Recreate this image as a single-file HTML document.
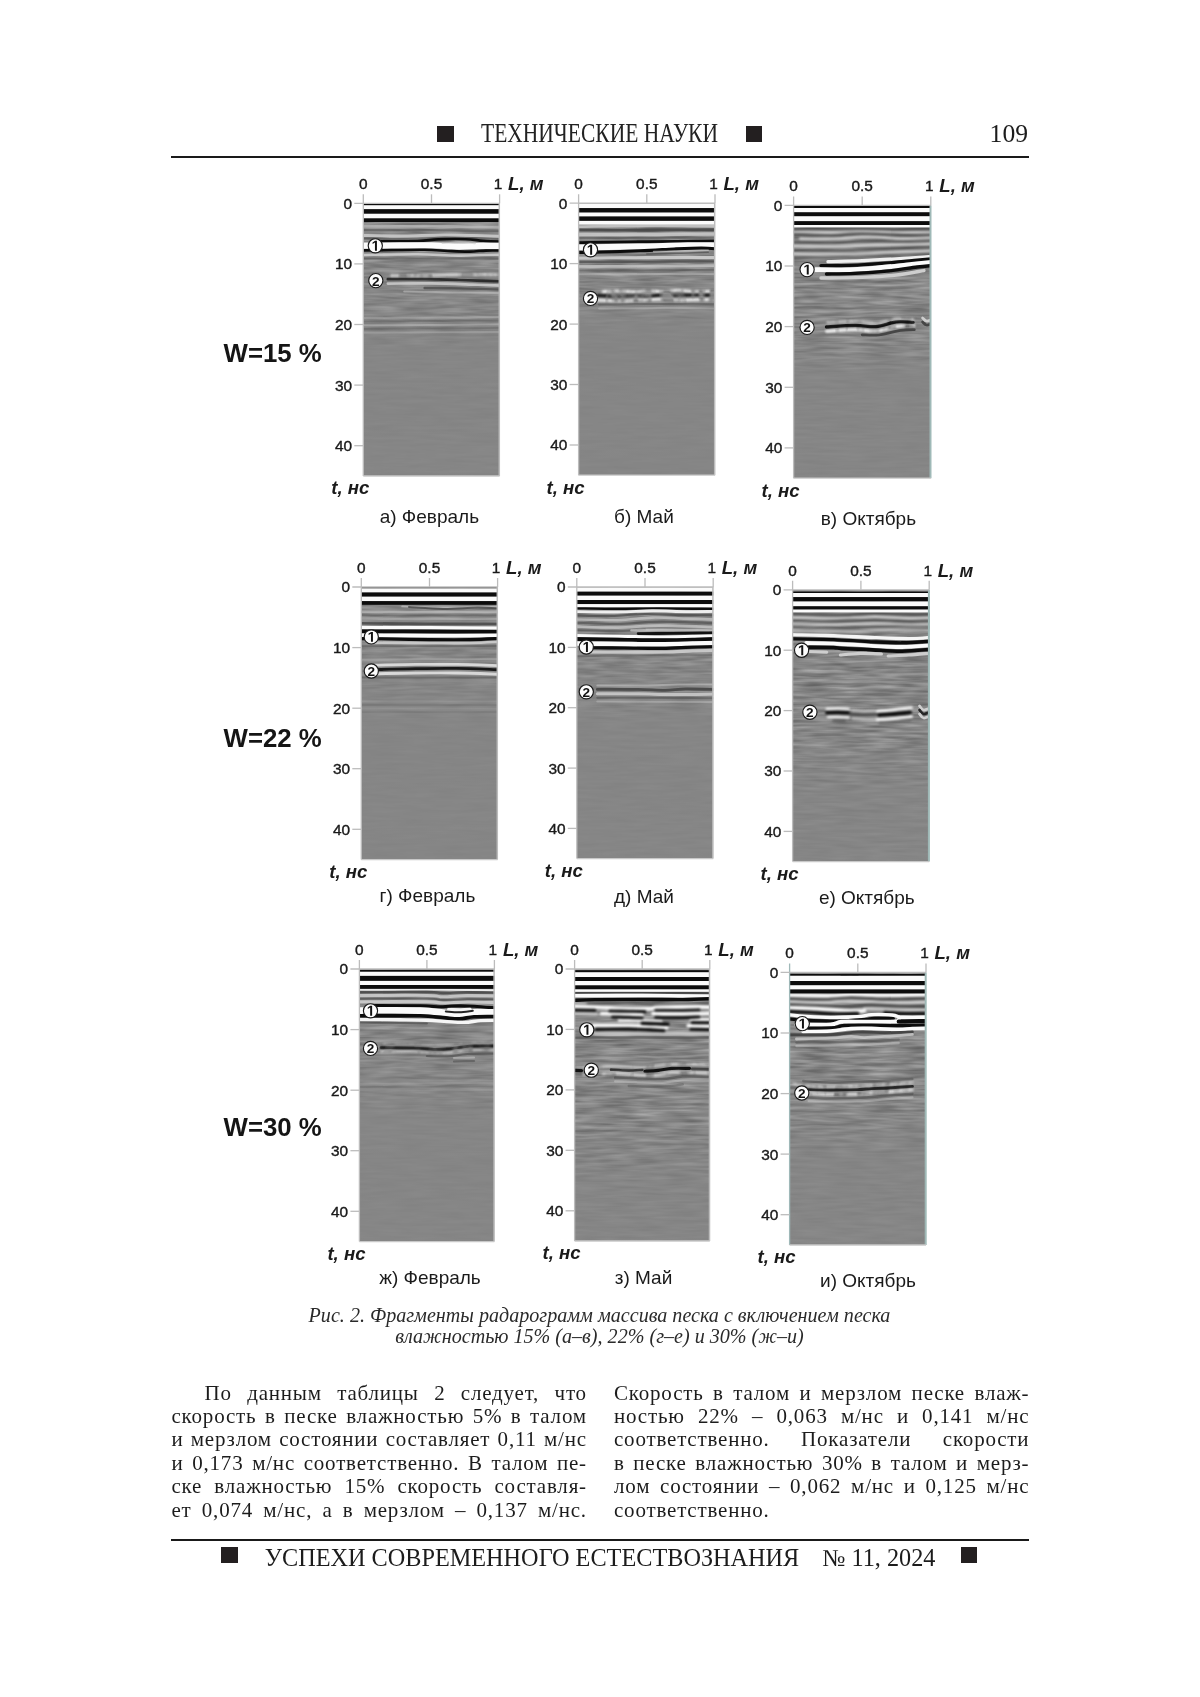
<!DOCTYPE html>
<html lang="ru"><head><meta charset="utf-8"><title>page 109</title>
<style>
html,body{margin:0;padding:0;background:#fff}
body{width:1200px;height:1697px;position:relative;overflow:hidden;font-family:"Liberation Serif",serif;color:#1c1c1c}
.abs{position:absolute;white-space:nowrap}
.sq{position:absolute;background:#231f20}
.rule{position:absolute;left:171px;width:857.5px;height:2.2px;background:#1a1a1a}
.hd{position:absolute;left:481.3px;top:117.6px;font-size:28.3px;line-height:30px;transform-origin:0 0;transform:scaleX(0.76);white-space:nowrap;color:#222}
.pn{position:absolute;right:172px;top:119.8px;font-size:25.6px;line-height:28px;color:#1c1c1c}
.cap{position:absolute;left:0;width:1200px;text-align:center;font-style:italic;font-size:20.1px;line-height:19.2px;color:#2a2a2a;white-space:nowrap}
.col{position:absolute;top:1381.5px;width:415.4px;font-size:21px;line-height:23.45px;letter-spacing:0.8px;color:#1c1c1c}
.ln{text-align:justify;text-align-last:justify;white-space:nowrap;height:23.45px;overflow:visible}
.ln.nj{text-align:left;text-align-last:left}
.ft{position:absolute;top:1544.2px;font-size:24.25px;line-height:28px;white-space:nowrap;color:#1c1c1c}
</style></head><body><div id="pg" style="position:absolute;left:0;top:0;width:1200px;height:1697px;will-change:transform;transform:translateZ(0)">
<div class="sq" style="left:437.3px;top:125.7px;width:16.4px;height:16.2px"></div>
<div class="sq" style="left:745.9px;top:125.7px;width:16.4px;height:16.2px"></div>
<div class="hd">ТЕХНИЧЕСКИЕ НАУКИ</div>
<div class="pn">109</div>
<div class="rule" style="top:155.9px"></div>
<svg width="1200" height="1697" viewBox="0 0 1200 1697" style="position:absolute;left:0;top:0">
<defs><filter id="bl" color-interpolation-filters="sRGB" x="-5%" y="-5%" width="110%" height="110%"><feGaussianBlur stdDeviation="0.7"/></filter>
<filter id="bls" color-interpolation-filters="sRGB" x="-5%" y="-5%" width="110%" height="110%"><feGaussianBlur stdDeviation="0.85"/></filter><filter id="bl2" color-interpolation-filters="sRGB" x="-5%" y="-5%" width="110%" height="110%"><feGaussianBlur stdDeviation="0.6"/></filter></defs>
<clipPath id="c_a"><rect x="363.3" y="203.3" width="136.3" height="272.7"/></clipPath>
<linearGradient id="g_a" gradientUnits="userSpaceOnUse" x1="0" y1="203.3" x2="0" y2="476.0"><stop offset="0" stop-color="#fff" stop-opacity="0.5"/><stop offset="0.2" stop-color="#fff" stop-opacity="0.5"/><stop offset="0.42" stop-color="#fff" stop-opacity="0.3"/><stop offset="0.55" stop-color="#fff" stop-opacity="0.06"/><stop offset="1" stop-color="#fff" stop-opacity="0.05"/></linearGradient>
<mask id="m_a" maskUnits="userSpaceOnUse" x="363.3" y="203.3" width="136.3" height="272.7"><rect x="363.3" y="203.3" width="136.3" height="272.7" fill="url(#g_a)"/></mask>
<filter id="f_a" color-interpolation-filters="sRGB" filterUnits="userSpaceOnUse" x="363.3" y="203.3" width="136.3" height="272.7"><feTurbulence type="fractalNoise" baseFrequency="0.03 0.30" numOctaves="2" seed="3"/><feColorMatrix type="matrix" values="0.62 0 0 0 0.215  0.62 0 0 0 0.215  0.62 0 0 0 0.215  0 0 0 0 1"/></filter>
<filter id="brk_a" color-interpolation-filters="sRGB" filterUnits="userSpaceOnUse" x="363.3" y="203.3" width="136.3" height="272.7"><feTurbulence type="fractalNoise" baseFrequency="0.11 0.035" numOctaves="2" seed="43" result="n"/><feColorMatrix in="n" type="matrix" values="0 0 0 0 0  0 0 0 0 0  0 0 0 0 0  3.2 0 0 0 -0.9" result="m"/><feGaussianBlur in="SourceGraphic" stdDeviation="0.8" result="b"/><feComposite in="b" in2="m" operator="in"/></filter>
<g clip-path="url(#c_a)">
<rect x="363.3" y="203.3" width="136.3" height="272.7" fill="#868686"/>
<g mask="url(#m_a)"><rect x="363.3" y="203.3" width="136.3" height="272.7" filter="url(#f_a)"/></g>
<g filter="url(#bls)" fill="none" stroke-linecap="round">
</g>
<g filter="url(#bl)" fill="none" stroke-linecap="round">
<path d="M360.3,226.5C372.2,226.5 407.7,226.1 431.5,226.3C455.2,226.5 490.7,227.3 502.6,227.5" stroke="#cecece" stroke-width="2.6" opacity="0.55"/>
<path d="M360.3,230.2C372.2,230.2 407.7,229.9 431.5,230.0C455.2,230.1 490.7,230.8 502.6,231.0" stroke="#464646" stroke-width="2.2" opacity="0.45"/>
<path d="M360.3,235.5C367.6,235.6 390.1,236.1 404.2,236.0C418.3,235.9 428.7,234.9 445.1,235.0C461.5,235.1 493.0,236.2 502.6,236.5" stroke="#cecece" stroke-width="3.0" opacity="0.85"/>
<path d="M360.3,238.4C369.9,238.5 403.7,239.1 417.8,239.0C432.0,238.9 431.0,237.6 445.1,237.6C459.2,237.6 493.0,238.8 502.6,239.0" stroke="#464646" stroke-width="2.0" opacity="0.5"/>
<path d="M379.7,241.2C386.0,241.2 408.1,241.3 417.8,241.0C427.6,240.7 430.3,239.7 438.3,239.4C446.2,239.1 458.0,239.0 465.5,239.2C473.0,239.4 477.1,240.4 483.2,240.8C489.4,241.2 499.4,241.5 502.6,241.6" stroke="#0c0c0c" stroke-width="2.576" opacity="1"/>
<path d="M360.3,245.6C363.5,245.6 367.8,245.6 379.7,245.6C391.5,245.6 418.3,245.2 431.5,245.3C444.6,245.5 450.8,246.4 458.7,246.5C466.7,246.6 471.8,245.9 479.2,245.8C486.5,245.7 498.7,246.0 502.6,246.0" stroke="#fbfbfb" stroke-width="6.272" opacity="1"/>
<path d="M442.4,243.3C445.1,243.2 453.3,242.4 458.7,242.4C464.2,242.4 472.3,243.2 475.1,243.4" stroke="#cecece" stroke-width="1.6" opacity="0.7"/>
<path d="M360.3,250.4C363.5,250.4 368.9,250.3 379.7,250.2C390.4,250.1 413.3,249.7 424.6,249.8C436.0,249.9 440.3,250.7 447.8,251.0C455.3,251.3 463.3,251.7 469.6,251.6C476.0,251.5 480.5,250.8 486.0,250.6C491.5,250.4 499.8,250.6 502.6,250.6" stroke="#0c0c0c" stroke-width="2.576" opacity="1"/>
<path d="M360.3,255.0C369.9,254.9 401.4,254.1 417.8,254.2C434.2,254.3 444.6,255.5 458.7,255.6C472.8,255.7 495.3,254.8 502.6,254.6" stroke="#cecece" stroke-width="2.6" opacity="0.9"/>
<path d="M360.3,258.5L502.6,258.5" stroke="#464646" stroke-width="2.0" opacity="0.4"/>
<path d="M387.8,279.2C394.0,279.2 412.8,279.1 424.6,279.2C436.4,279.3 445.7,279.6 458.7,280.0C471.7,280.4 495.3,281.2 502.6,281.4" stroke="#0c0c0c" stroke-width="2.688" opacity="0.7"/>
<path d="M387.8,283.6C395.1,283.6 417.4,283.2 431.5,283.4C445.5,283.6 460.5,284.2 472.3,284.6C484.2,285.0 497.6,285.4 502.6,285.6" stroke="#cecece" stroke-width="2.6" opacity="0.85"/>
<path d="M424.6,288.0C431.4,288.1 452.5,288.3 465.5,288.6C478.5,288.9 496.4,289.4 502.6,289.6" stroke="#464646" stroke-width="2.4" opacity="0.75"/>
<path d="M404.2,291.6C413.3,291.7 442.3,292.2 458.7,292.4C475.1,292.6 495.3,292.9 502.6,293.0" stroke="#cecece" stroke-width="2.0" opacity="0.5"/>
<path d="M360.3,318.0C372.2,317.9 407.7,317.8 431.5,317.6C455.2,317.4 490.7,317.1 502.6,317.0" stroke="#cecece" stroke-width="2.0" opacity="0.3"/>
<path d="M360.3,321.4C372.2,321.3 407.7,321.1 431.5,321.0C455.2,320.9 490.7,320.7 502.6,320.6" stroke="#464646" stroke-width="2.0" opacity="0.3"/>
<path d="M360.3,325.2C372.2,325.2 407.7,325.2 431.5,325.0C455.2,324.8 490.7,324.3 502.6,324.2" stroke="#cecece" stroke-width="2.0" opacity="0.4"/>
<path d="M360.3,329.0L502.6,328.0" stroke="#464646" stroke-width="2.0" opacity="0.3"/>
<path d="M360.3,332.5L502.6,332.0" stroke="#cecece" stroke-width="2.0" opacity="0.3"/>
</g>
<g filter="url(#brk_a)" fill="none" stroke-linecap="round">
<path d="M390.6,275.6C397.4,275.6 417.8,275.6 431.5,275.4C445.1,275.2 460.5,274.6 472.3,274.6C484.2,274.6 497.6,275.1 502.6,275.2" stroke="#fbfbfb" stroke-width="2.0" opacity="0.8"/>
</g>
<g filter="url(#bl2)">
<rect x="360.3" y="204.0" width="142.3" height="1.3" fill="#0c0c0c"/>
<rect x="360.3" y="205.3" width="142.3" height="3.9" fill="#fbfbfb"/>
<rect x="360.3" y="209.2" width="142.3" height="4.6" fill="#0c0c0c"/>
<rect x="360.3" y="213.8" width="142.3" height="4.6" fill="#fbfbfb"/>
<rect x="360.3" y="218.4" width="142.3" height="3.6" fill="#0c0c0c"/>
</g>
</g>
<g stroke="#bcbcbc" stroke-width="1.3" fill="none">
<path d="M363.3,194.3V476.0" stroke="#bcbcbc"/>
<path d="M499.6,194.3V203.3"/>
<path d="M499.3,203.3V476.0" stroke="#bcbcbc" stroke-width="1.5"/>
<path d="M354.3,203.3H499.6"/>
<path d="M431.5,194.3V203.3"/>
<path d="M363.3,476.0H499.6" stroke="#c8c8c8"/>
<path d="M354.3,263.9H363.3"/>
<path d="M354.3,324.5H363.3"/>
<path d="M354.3,385.1H363.3"/>
<path d="M354.3,445.7H363.3"/>
</g>
<g font-family="Liberation Sans, sans-serif" font-size="15.4" fill="#1a1a1a" stroke="#1a1a1a" stroke-width="0.4">
<text x="363.3" y="189.1" text-anchor="middle">0</text>
<text x="431.5" y="189.1" text-anchor="middle">0.5</text>
<text x="498.1" y="189.1" text-anchor="middle">1</text>
<text x="352.0" y="208.7" text-anchor="end">0</text>
<text x="352.0" y="269.3" text-anchor="end">10</text>
<text x="352.0" y="329.9" text-anchor="end">20</text>
<text x="352.0" y="390.5" text-anchor="end">30</text>
<text x="352.0" y="451.1" text-anchor="end">40</text>
</g>
<text x="508.1" y="190.0" font-family="Liberation Sans, sans-serif" font-size="18.6" font-weight="bold" font-style="italic" fill="#1a1a1a">L, м</text>
<text x="331.3" y="494.3" font-family="Liberation Sans, sans-serif" font-size="18.6" font-weight="bold" font-style="italic" fill="#1a1a1a">t, нс</text>
<text x="429.4" y="522.6" text-anchor="middle" font-family="Liberation Sans, sans-serif" font-size="19" fill="#1a1a1a">а) Февраль</text>
<circle cx="375.3" cy="245.8" r="7.1" fill="#fdfdfd" stroke="#1a1a1a" stroke-width="1.15"/>
<path d="M374.96,250.75L374.96,242.53L372.58,244.01L372.58,242.46L375.06,240.85L376.93,240.85L376.93,250.75Z" fill="#111"/>
<circle cx="375.8" cy="280.6" r="7.1" fill="#fdfdfd" stroke="#1a1a1a" stroke-width="1.15"/>
<text x="375.8" y="285.5" text-anchor="middle" font-family="Liberation Sans, sans-serif" font-size="13.6" font-weight="bold" fill="#111">2</text>
<clipPath id="c_b"><rect x="578.6" y="203.2" width="136.4" height="272.0"/></clipPath>
<linearGradient id="g_b" gradientUnits="userSpaceOnUse" x1="0" y1="203.2" x2="0" y2="475.2"><stop offset="0" stop-color="#fff" stop-opacity="0.5"/><stop offset="0.25" stop-color="#fff" stop-opacity="0.5"/><stop offset="0.38" stop-color="#fff" stop-opacity="0.3"/><stop offset="0.46" stop-color="#fff" stop-opacity="0.05"/><stop offset="1" stop-color="#fff" stop-opacity="0.04"/></linearGradient>
<mask id="m_b" maskUnits="userSpaceOnUse" x="578.6" y="203.2" width="136.4" height="272.0"><rect x="578.6" y="203.2" width="136.4" height="272.0" fill="url(#g_b)"/></mask>
<filter id="f_b" color-interpolation-filters="sRGB" filterUnits="userSpaceOnUse" x="578.6" y="203.2" width="136.4" height="272.0"><feTurbulence type="fractalNoise" baseFrequency="0.03 0.30" numOctaves="2" seed="7"/><feColorMatrix type="matrix" values="0.62 0 0 0 0.215  0.62 0 0 0 0.215  0.62 0 0 0 0.215  0 0 0 0 1"/></filter>
<filter id="brk_b" color-interpolation-filters="sRGB" filterUnits="userSpaceOnUse" x="578.6" y="203.2" width="136.4" height="272.0"><feTurbulence type="fractalNoise" baseFrequency="0.11 0.035" numOctaves="2" seed="47" result="n"/><feColorMatrix in="n" type="matrix" values="0 0 0 0 0  0 0 0 0 0  0 0 0 0 0  3.2 0 0 0 -0.9" result="m"/><feGaussianBlur in="SourceGraphic" stdDeviation="0.8" result="b"/><feComposite in="b" in2="m" operator="in"/></filter>
<g clip-path="url(#c_b)">
<rect x="578.6" y="203.2" width="136.4" height="272.0" fill="#868686"/>
<g mask="url(#m_b)"><rect x="578.6" y="203.2" width="136.4" height="272.0" filter="url(#f_b)"/></g>
<g filter="url(#bls)" fill="none" stroke-linecap="round">
</g>
<g filter="url(#bl)" fill="none" stroke-linecap="round">
<path d="M575.6,226.6C587.5,226.5 623.1,225.8 646.8,225.8C670.5,225.8 706.1,226.3 718.0,226.4" stroke="#cecece" stroke-width="2.6" opacity="0.8"/>
<path d="M575.6,230.2C587.5,230.2 623.1,230.1 646.8,230.0C670.5,229.9 706.1,229.7 718.0,229.6" stroke="#464646" stroke-width="2.8" opacity="0.9"/>
<path d="M575.6,234.6C587.5,234.6 623.1,234.5 646.8,234.4C670.5,234.3 706.1,234.1 718.0,234.0" stroke="#cecece" stroke-width="3.6" opacity="0.8"/>
<path d="M575.6,238.2L718.0,237.6" stroke="#464646" stroke-width="1.8" opacity="0.4"/>
<path d="M575.6,242.6C578.4,242.6 580.4,242.6 592.2,242.4C604.1,242.2 625.8,241.8 646.8,241.6C667.8,241.4 706.1,241.1 718.0,241.0" stroke="#0c0c0c" stroke-width="2.9120000000000004" opacity="1"/>
<path d="M575.6,247.4C578.4,247.4 580.4,247.4 592.2,247.2C604.1,247.0 630.9,246.7 646.8,246.4C662.7,246.1 675.9,245.4 687.7,245.2C699.6,245.0 713.0,245.4 718.0,245.4" stroke="#fbfbfb" stroke-width="6.048000000000001" opacity="1"/>
<path d="M575.6,252.4C578.8,252.4 584.2,252.5 595.0,252.2C605.7,251.9 626.8,251.3 640.0,250.8C653.2,250.3 663.9,249.5 674.1,249.0C684.3,248.5 694.0,248.0 701.4,248.0C708.7,248.0 715.2,248.8 718.0,249.0" stroke="#0c0c0c" stroke-width="3.136" opacity="1"/>
<path d="M653.6,251.6C658.2,251.5 671.8,251.2 680.9,251.0C690.0,250.8 703.6,250.3 708.2,250.2" stroke="#cecece" stroke-width="1.6" opacity="0.6"/>
<path d="M646.8,254.0C652.5,253.9 670.7,253.5 680.9,253.2C691.1,252.9 703.6,252.4 708.2,252.2" stroke="#464646" stroke-width="1.6" opacity="0.6"/>
<path d="M575.6,258.2C587.5,258.1 623.1,257.7 646.8,257.6C670.5,257.5 706.1,257.6 718.0,257.6" stroke="#cecece" stroke-width="3.0" opacity="0.9"/>
<path d="M575.6,262.0C587.5,261.9 623.1,261.7 646.8,261.6C670.5,261.5 706.1,261.4 718.0,261.4" stroke="#464646" stroke-width="2.4" opacity="0.7"/>
<path d="M575.6,266.4C587.5,266.4 623.1,266.3 646.8,266.2C670.5,266.1 706.1,265.7 718.0,265.6" stroke="#cecece" stroke-width="2.8" opacity="0.7"/>
<path d="M575.6,270.4L718.0,270.0" stroke="#464646" stroke-width="2.0" opacity="0.4"/>
<path d="M575.6,274.4L718.0,274.0" stroke="#cecece" stroke-width="2.2" opacity="0.4"/>
<path d="M599.1,304.6C609.3,304.5 640.6,304.0 660.4,304.0C680.3,304.0 708.4,304.3 718.0,304.4" stroke="#464646" stroke-width="2.2" opacity="0.4"/>
<path d="M599.1,308.6C609.3,308.5 640.6,308.0 660.4,308.0C680.3,308.0 708.4,308.3 718.0,308.4" stroke="#cecece" stroke-width="2.0" opacity="0.35"/>
</g>
<g filter="url(#brk_b)" fill="none" stroke-linecap="round">
<path d="M603.2,291.6C605.9,291.5 614.1,290.9 619.5,291.0C625.0,291.1 631.3,292.3 635.9,292.2C640.4,292.1 642.3,290.7 646.8,290.6C651.3,290.5 658.2,291.6 663.2,291.6C668.2,291.6 671.6,290.4 676.8,290.4C682.0,290.4 687.7,291.5 694.5,291.6C701.4,291.7 714.1,290.9 718.0,290.8" stroke="#fbfbfb" stroke-width="2.8" opacity="0.9"/>
<path d="M597.7,295.6C601.3,295.7 613.2,296.2 619.5,296.2C625.9,296.2 631.3,295.4 635.9,295.4C640.4,295.4 642.3,296.3 646.8,296.2C651.3,296.1 658.2,294.9 663.2,294.8C668.2,294.7 671.6,295.8 676.8,295.8C682.0,295.8 687.7,294.9 694.5,294.8C701.4,294.7 714.1,295.3 718.0,295.4" stroke="#0c0c0c" stroke-width="3.0" opacity="0.95"/>
<path d="M597.7,300.2C601.3,300.3 612.5,300.8 619.5,300.8C626.6,300.8 633.2,300.3 640.0,300.0C646.8,299.7 653.6,299.2 660.4,299.2C667.3,299.2 674.1,300.2 680.9,300.2C687.7,300.2 695.2,299.4 701.4,299.4C707.5,299.4 715.2,299.9 718.0,300.0" stroke="#fbfbfb" stroke-width="3.0" opacity="0.85"/>
</g>
<g filter="url(#bl2)">
<rect x="575.6" y="203.6" width="142.4" height="4.5" fill="#fbfbfb"/>
<rect x="575.6" y="208.1" width="142.4" height="4.5" fill="#0c0c0c"/>
<rect x="575.6" y="212.6" width="142.4" height="3.9" fill="#fbfbfb"/>
<rect x="575.6" y="216.5" width="142.4" height="4.4" fill="#0c0c0c"/>
<rect x="575.6" y="220.9" width="142.4" height="3.7" fill="#fbfbfb"/>
</g>
</g>
<g stroke="#bcbcbc" stroke-width="1.3" fill="none">
<path d="M578.6,194.2V475.2" stroke="#bcbcbc"/>
<path d="M715.0,194.2V203.2"/>
<path d="M714.7,203.2V475.2" stroke="#bcbcbc" stroke-width="1.5"/>
<path d="M569.6,203.2H715.0"/>
<path d="M646.8,194.2V203.2"/>
<path d="M578.6,475.2H715.0" stroke="#c8c8c8"/>
<path d="M569.6,263.6H578.6"/>
<path d="M569.6,324.1H578.6"/>
<path d="M569.6,384.5H578.6"/>
<path d="M569.6,445.0H578.6"/>
</g>
<g font-family="Liberation Sans, sans-serif" font-size="15.4" fill="#1a1a1a" stroke="#1a1a1a" stroke-width="0.4">
<text x="578.6" y="189.0" text-anchor="middle">0</text>
<text x="646.8" y="189.0" text-anchor="middle">0.5</text>
<text x="713.5" y="189.0" text-anchor="middle">1</text>
<text x="567.3" y="208.6" text-anchor="end">0</text>
<text x="567.3" y="269.0" text-anchor="end">10</text>
<text x="567.3" y="329.5" text-anchor="end">20</text>
<text x="567.3" y="389.9" text-anchor="end">30</text>
<text x="567.3" y="450.4" text-anchor="end">40</text>
</g>
<text x="723.5" y="189.9" font-family="Liberation Sans, sans-serif" font-size="18.6" font-weight="bold" font-style="italic" fill="#1a1a1a">L, м</text>
<text x="546.6" y="493.5" font-family="Liberation Sans, sans-serif" font-size="18.6" font-weight="bold" font-style="italic" fill="#1a1a1a">t, нс</text>
<text x="643.9" y="523.4" text-anchor="middle" font-family="Liberation Sans, sans-serif" font-size="19" fill="#1a1a1a">б) Май</text>
<circle cx="590.5" cy="249.8" r="7.1" fill="#fdfdfd" stroke="#1a1a1a" stroke-width="1.15"/>
<path d="M590.16,254.75L590.16,246.53L587.78,248.01L587.78,246.46L590.26,244.85L592.13,244.85L592.13,254.75Z" fill="#111"/>
<circle cx="590.5" cy="298.4" r="7.1" fill="#fdfdfd" stroke="#1a1a1a" stroke-width="1.15"/>
<text x="590.5" y="303.3" text-anchor="middle" font-family="Liberation Sans, sans-serif" font-size="13.6" font-weight="bold" fill="#111">2</text>
<clipPath id="c_c"><rect x="793.6" y="205.4" width="137.2" height="272.8"/></clipPath>
<linearGradient id="g_c" gradientUnits="userSpaceOnUse" x1="0" y1="205.4" x2="0" y2="478.2"><stop offset="0" stop-color="#fff" stop-opacity="0.55"/><stop offset="0.3" stop-color="#fff" stop-opacity="0.55"/><stop offset="0.5" stop-color="#fff" stop-opacity="0.45"/><stop offset="0.62" stop-color="#fff" stop-opacity="0.08"/><stop offset="1" stop-color="#fff" stop-opacity="0.06"/></linearGradient>
<mask id="m_c" maskUnits="userSpaceOnUse" x="793.6" y="205.4" width="137.2" height="272.8"><rect x="793.6" y="205.4" width="137.2" height="272.8" fill="url(#g_c)"/></mask>
<filter id="f_c" color-interpolation-filters="sRGB" filterUnits="userSpaceOnUse" x="793.6" y="205.4" width="137.2" height="272.8"><feTurbulence type="fractalNoise" baseFrequency="0.03 0.30" numOctaves="2" seed="11"/><feColorMatrix type="matrix" values="0.62 0 0 0 0.215  0.62 0 0 0 0.215  0.62 0 0 0 0.215  0 0 0 0 1"/></filter>
<filter id="brk_c" color-interpolation-filters="sRGB" filterUnits="userSpaceOnUse" x="793.6" y="205.4" width="137.2" height="272.8"><feTurbulence type="fractalNoise" baseFrequency="0.11 0.035" numOctaves="2" seed="51" result="n"/><feColorMatrix in="n" type="matrix" values="0 0 0 0 0  0 0 0 0 0  0 0 0 0 0  3.2 0 0 0 -0.9" result="m"/><feGaussianBlur in="SourceGraphic" stdDeviation="0.8" result="b"/><feComposite in="b" in2="m" operator="in"/></filter>
<g clip-path="url(#c_c)">
<rect x="793.6" y="205.4" width="137.2" height="272.8" fill="#868686"/>
<g mask="url(#m_c)"><rect x="793.6" y="205.4" width="137.2" height="272.8" filter="url(#f_c)"/></g>
<g filter="url(#bls)" fill="none" stroke-linecap="round">
<path d="M790.6,231.0C798.0,231.2 820.5,232.3 834.8,232.4C849.0,232.5 859.4,231.4 875.9,231.4C892.4,231.4 924.2,232.4 933.8,232.6" stroke="#cecece" stroke-width="3.12" opacity="0.9199999999999999"/>
<path d="M800.5,238.6C806.2,238.6 823.3,239.1 834.8,238.8C846.2,238.5 857.6,236.8 869.1,236.8C880.5,236.8 892.6,238.5 903.4,238.6C914.1,238.7 928.7,237.8 933.8,237.6" stroke="#cecece" stroke-width="3.12" opacity="0.9199999999999999"/>
<path d="M790.6,246.0C798.0,246.1 820.5,246.8 834.8,246.6C849.0,246.4 859.4,245.1 875.9,244.6C892.4,244.1 924.2,243.8 933.8,243.6" stroke="#cecece" stroke-width="3.3800000000000003" opacity="0.9199999999999999"/>
<path d="M790.6,253.6C800.2,253.7 832.0,254.2 848.5,254.0C865.0,253.8 875.4,253.0 889.6,252.4C903.9,251.8 926.4,250.9 933.8,250.6" stroke="#cecece" stroke-width="3.3800000000000003" opacity="0.8049999999999999"/>
<path d="M790.6,229.2C802.5,229.1 844.6,228.5 862.2,228.6C879.9,228.7 884.6,229.6 896.5,229.6C908.4,229.6 927.6,228.8 933.8,228.6" stroke="#464646" stroke-width="2.8600000000000003" opacity="0.9199999999999999"/>
<path d="M790.6,234.8C796.8,234.9 816.0,235.8 827.9,235.6C839.8,235.4 849.6,233.6 862.2,233.6C874.8,233.6 891.4,235.4 903.4,235.6C915.3,235.8 928.7,234.8 933.8,234.6" stroke="#464646" stroke-width="2.8600000000000003" opacity="0.8049999999999999"/>
<path d="M790.6,242.4C798.0,242.4 822.8,242.8 834.8,242.6C846.7,242.4 850.8,241.2 862.2,241.0C873.6,240.8 891.4,241.7 903.4,241.6C915.3,241.5 928.7,240.8 933.8,240.6" stroke="#464646" stroke-width="2.8600000000000003" opacity="0.69"/>
<path d="M790.6,250.0C800.2,250.1 832.0,250.6 848.5,250.4C865.0,250.2 875.4,249.1 889.6,248.6C903.9,248.1 926.4,247.4 933.8,247.2" stroke="#464646" stroke-width="2.8600000000000003" opacity="0.69"/>
<path d="M790.6,257.6C800.2,257.6 832.0,257.7 848.5,257.4C865.0,257.1 875.4,256.2 889.6,255.6C903.9,255.0 926.4,254.3 933.8,254.0" stroke="#464646" stroke-width="2.6" opacity="0.575"/>
</g>
<g filter="url(#bl)" fill="none" stroke-linecap="round">
<path d="M827.9,261.6C833.6,261.4 849.6,261.1 862.2,260.6C874.8,260.1 891.4,259.1 903.4,258.4C915.3,257.7 928.7,256.6 933.8,256.2" stroke="#fbfbfb" stroke-width="3.136" opacity="0.9"/>
<path d="M821.0,265.6C825.6,265.6 837.0,265.9 848.5,265.4C859.9,264.9 878.2,263.7 889.6,262.8C901.1,261.9 909.7,260.9 917.1,260.2C924.4,259.5 931.0,259.0 933.8,258.8" stroke="#0c0c0c" stroke-width="3.3600000000000003" opacity="1"/>
<path d="M815.6,269.6C819.9,269.7 831.6,270.3 841.6,270.0C851.7,269.7 864.5,268.9 875.9,268.0C887.4,267.1 900.6,265.6 910.2,264.6C919.9,263.6 929.9,262.6 933.8,262.2" stroke="#fbfbfb" stroke-width="4.704000000000001" opacity="1"/>
<path d="M826.5,274.0C831.3,273.9 844.8,273.9 855.3,273.4C865.9,272.9 879.4,271.9 889.6,270.8C899.9,269.7 909.7,267.9 917.1,267.0C924.4,266.1 931.0,265.7 933.8,265.4" stroke="#0c0c0c" stroke-width="3.3600000000000003" opacity="1"/>
<path d="M821.0,278.0C827.9,277.9 849.6,277.9 862.2,277.4C874.8,276.9 886.2,276.1 896.5,275.0C906.8,273.9 919.4,271.3 923.9,270.6" stroke="#cecece" stroke-width="3.4499999999999997" opacity="1"/>
<path d="M826.5,327.0C831.3,326.7 847.1,325.5 855.3,325.4C863.6,325.3 869.1,327.2 875.9,326.6C882.8,326.0 890.3,322.5 896.5,321.8C902.7,321.1 910.2,322.3 913.0,322.4" stroke="#0c0c0c" stroke-width="3.3600000000000003" opacity="0.95"/>
<path d="M862.2,334.8C864.9,334.8 872.3,335.7 878.7,335.0C885.1,334.3 894.7,331.3 900.6,330.4C906.6,329.5 912.0,329.7 914.3,329.6" stroke="#464646" stroke-width="2.76" opacity="1"/>
<path d="M922.6,322.0C923.3,322.5 924.8,324.8 926.7,325.0C928.6,325.2 932.6,323.3 933.8,323.0" stroke="#464646" stroke-width="2.76" opacity="1"/>
<path d="M922.6,318.0C923.3,318.5 924.8,320.8 926.7,321.0C928.6,321.2 932.6,319.3 933.8,319.0" stroke="#cecece" stroke-width="2.76" opacity="1"/>
</g>
<g filter="url(#brk_c)" fill="none" stroke-linecap="round">
<path d="M827.9,322.4C832.5,322.2 847.3,321.1 855.3,321.2C863.3,321.3 869.1,323.4 875.9,323.0C882.8,322.6 890.3,319.2 896.5,318.6C902.7,318.0 910.2,319.3 913.0,319.4" stroke="#cecece" stroke-width="2.6" opacity="0.85"/>
<path d="M826.5,331.2C831.3,330.9 847.1,329.6 855.3,329.6C863.6,329.6 869.1,331.7 875.9,331.2C882.8,330.7 890.1,327.3 896.5,326.4C902.9,325.5 911.4,325.9 914.3,325.8" stroke="#fbfbfb" stroke-width="3.0" opacity="0.95"/>
</g>
<g filter="url(#bl2)">
<rect x="790.6" y="205.8" width="143.2" height="2.2" fill="#0c0c0c"/>
<rect x="790.6" y="208.0" width="143.2" height="4.3" fill="#fbfbfb"/>
<rect x="790.6" y="212.3" width="143.2" height="4.0" fill="#0c0c0c"/>
<rect x="790.6" y="216.3" width="143.2" height="4.9" fill="#fbfbfb"/>
<rect x="790.6" y="221.2" width="143.2" height="3.8" fill="#0c0c0c"/>
<rect x="790.6" y="225.0" width="143.2" height="2.4" fill="#fbfbfb"/>
</g>
</g>
<g stroke="#bcbcbc" stroke-width="1.3" fill="none">
<path d="M793.6,196.4V478.2" stroke="#bcbcbc"/>
<path d="M930.8,196.4V205.4"/>
<path d="M930.5,205.4V478.2" stroke="#9fb9b7" stroke-width="2.0"/>
<path d="M784.6,205.4H930.8"/>
<path d="M862.2,196.4V205.4"/>
<path d="M793.6,478.2H930.8" stroke="#c8c8c8"/>
<path d="M784.6,266.0H793.6"/>
<path d="M784.6,326.6H793.6"/>
<path d="M784.6,387.3H793.6"/>
<path d="M784.6,447.9H793.6"/>
</g>
<g font-family="Liberation Sans, sans-serif" font-size="15.4" fill="#1a1a1a" stroke="#1a1a1a" stroke-width="0.4">
<text x="793.6" y="191.2" text-anchor="middle">0</text>
<text x="862.2" y="191.2" text-anchor="middle">0.5</text>
<text x="929.3" y="191.2" text-anchor="middle">1</text>
<text x="782.3" y="210.8" text-anchor="end">0</text>
<text x="782.3" y="271.4" text-anchor="end">10</text>
<text x="782.3" y="332.0" text-anchor="end">20</text>
<text x="782.3" y="392.7" text-anchor="end">30</text>
<text x="782.3" y="453.3" text-anchor="end">40</text>
</g>
<text x="939.3" y="192.1" font-family="Liberation Sans, sans-serif" font-size="18.6" font-weight="bold" font-style="italic" fill="#1a1a1a">L, м</text>
<text x="761.6" y="496.5" font-family="Liberation Sans, sans-serif" font-size="18.6" font-weight="bold" font-style="italic" fill="#1a1a1a">t, нс</text>
<text x="868.4" y="524.8" text-anchor="middle" font-family="Liberation Sans, sans-serif" font-size="19" fill="#1a1a1a">в) Октябрь</text>
<circle cx="807.1" cy="269.6" r="7.1" fill="#fdfdfd" stroke="#1a1a1a" stroke-width="1.15"/>
<path d="M806.76,274.55L806.76,266.33L804.38,267.81L804.38,266.26L806.86,264.65L808.73,264.65L808.73,274.55Z" fill="#111"/>
<circle cx="807.1" cy="327.4" r="7.1" fill="#fdfdfd" stroke="#1a1a1a" stroke-width="1.15"/>
<text x="807.1" y="332.3" text-anchor="middle" font-family="Liberation Sans, sans-serif" font-size="13.6" font-weight="bold" fill="#111">2</text>
<clipPath id="c_g"><rect x="361.3" y="587.0" width="136.3" height="272.6"/></clipPath>
<linearGradient id="g_g" gradientUnits="userSpaceOnUse" x1="0" y1="587.0" x2="0" y2="859.6"><stop offset="0" stop-color="#fff" stop-opacity="0.4"/><stop offset="0.15" stop-color="#fff" stop-opacity="0.4"/><stop offset="0.35" stop-color="#fff" stop-opacity="0.2"/><stop offset="0.5" stop-color="#fff" stop-opacity="0.05"/><stop offset="1" stop-color="#fff" stop-opacity="0.04"/></linearGradient>
<mask id="m_g" maskUnits="userSpaceOnUse" x="361.3" y="587.0" width="136.3" height="272.6"><rect x="361.3" y="587.0" width="136.3" height="272.6" fill="url(#g_g)"/></mask>
<filter id="f_g" color-interpolation-filters="sRGB" filterUnits="userSpaceOnUse" x="361.3" y="587.0" width="136.3" height="272.6"><feTurbulence type="fractalNoise" baseFrequency="0.03 0.30" numOctaves="2" seed="5"/><feColorMatrix type="matrix" values="0.62 0 0 0 0.215  0.62 0 0 0 0.215  0.62 0 0 0 0.215  0 0 0 0 1"/></filter>
<filter id="brk_g" color-interpolation-filters="sRGB" filterUnits="userSpaceOnUse" x="361.3" y="587.0" width="136.3" height="272.6"><feTurbulence type="fractalNoise" baseFrequency="0.11 0.035" numOctaves="2" seed="45" result="n"/><feColorMatrix in="n" type="matrix" values="0 0 0 0 0  0 0 0 0 0  0 0 0 0 0  3.2 0 0 0 -0.9" result="m"/><feGaussianBlur in="SourceGraphic" stdDeviation="0.8" result="b"/><feComposite in="b" in2="m" operator="in"/></filter>
<g clip-path="url(#c_g)">
<rect x="361.3" y="587.0" width="136.3" height="272.6" fill="#868686"/>
<g mask="url(#m_g)"><rect x="361.3" y="587.0" width="136.3" height="272.6" filter="url(#f_g)"/></g>
<g filter="url(#bls)" fill="none" stroke-linecap="round">
</g>
<g filter="url(#bl)" fill="none" stroke-linecap="round">
<path d="M402.2,606.4C409.0,606.6 426.7,607.4 443.1,607.4C459.5,607.4 491.0,606.7 500.6,606.6" stroke="#cecece" stroke-width="1.8" opacity="0.6"/>
<path d="M409.0,607.0C414.7,607.3 431.7,608.9 443.1,609.0C454.4,609.1 467.6,607.7 477.2,607.6C486.7,607.5 496.7,608.4 500.6,608.6" stroke="#464646" stroke-width="2.0" opacity="0.8"/>
<path d="M358.3,611.6C370.2,611.7 405.7,612.2 429.5,612.2C453.2,612.2 488.7,611.7 500.6,611.6" stroke="#cecece" stroke-width="2.6" opacity="0.55"/>
<path d="M358.3,615.0C370.2,615.1 405.7,615.6 429.5,615.6C453.2,615.6 488.7,615.1 500.6,615.0" stroke="#464646" stroke-width="2.0" opacity="0.35"/>
<path d="M358.3,618.4C370.2,618.5 405.7,619.0 429.5,619.0C453.2,619.0 488.7,618.7 500.6,618.6" stroke="#cecece" stroke-width="2.4" opacity="0.4"/>
<path d="M358.3,623.2C370.2,623.3 405.7,623.7 429.5,623.8C453.2,623.9 488.7,624.0 500.6,624.0" stroke="#464646" stroke-width="2.6" opacity="0.8"/>
<path d="M358.3,627.4C370.2,627.5 405.7,627.7 429.5,627.8C453.2,627.9 488.7,628.1 500.6,628.2" stroke="#fbfbfb" stroke-width="3.3600000000000003" opacity="1"/>
<path d="M358.3,631.4C370.2,631.4 405.7,631.5 429.5,631.6C453.2,631.7 488.7,631.8 500.6,631.8" stroke="#0c0c0c" stroke-width="4.032000000000001" opacity="1"/>
<path d="M358.3,635.2C370.2,635.3 405.7,635.6 429.5,635.6C453.2,635.6 488.7,635.4 500.6,635.4" stroke="#fbfbfb" stroke-width="3.8080000000000003" opacity="1"/>
<path d="M358.3,638.6C362.2,638.6 369.9,638.6 381.7,638.8C393.6,639.0 414.7,639.5 429.5,639.6C444.2,639.7 458.5,639.8 470.3,639.6C482.2,639.4 495.6,638.6 500.6,638.4" stroke="#0c0c0c" stroke-width="3.136" opacity="1"/>
<path d="M374.9,642.6C384.0,642.7 413.5,642.9 429.5,643.0C445.4,643.1 458.5,643.2 470.3,643.0C482.2,642.8 495.6,642.0 500.6,641.8" stroke="#cecece" stroke-width="2.6" opacity="0.9"/>
<path d="M358.3,646.2L500.6,646.0" stroke="#464646" stroke-width="1.8" opacity="0.4"/>
<path d="M358.3,659.6L500.6,659.0" stroke="#cecece" stroke-width="1.8" opacity="0.3"/>
<path d="M374.9,665.2C381.7,665.1 402.2,664.5 415.8,664.4C429.5,664.3 442.6,664.2 456.7,664.4C470.8,664.6 493.3,665.4 500.6,665.6" stroke="#fbfbfb" stroke-width="2.688" opacity="0.7"/>
<path d="M374.9,669.6C381.7,669.4 402.2,668.8 415.8,668.6C429.5,668.4 442.6,668.2 456.7,668.4C470.8,668.6 493.3,669.6 500.6,669.8" stroke="#0c0c0c" stroke-width="2.9120000000000004" opacity="0.9"/>
<path d="M374.9,673.8C381.7,673.7 402.2,673.1 415.8,673.0C429.5,672.9 442.6,672.8 456.7,673.0C470.8,673.2 493.3,674.0 500.6,674.2" stroke="#fbfbfb" stroke-width="2.9120000000000004" opacity="0.7"/>
<path d="M358.3,677.6L500.6,677.6" stroke="#464646" stroke-width="2.0" opacity="0.4"/>
<path d="M358.3,701.5L500.6,701.5" stroke="#cecece" stroke-width="2.0" opacity="0.15"/>
<path d="M358.3,705.0L500.6,705.0" stroke="#464646" stroke-width="2.0" opacity="0.15"/>
<path d="M358.3,708.6L500.6,708.6" stroke="#cecece" stroke-width="2.0" opacity="0.15"/>
<path d="M358.3,712.0L500.6,712.0" stroke="#464646" stroke-width="2.0" opacity="0.12"/>
</g>
<g filter="url(#brk_g)" fill="none" stroke-linecap="round">
</g>
<g filter="url(#bl2)">
<rect x="358.3" y="587.2" width="142.3" height="1.2" fill="#0c0c0c"/>
<rect x="358.3" y="588.4" width="142.3" height="4.1" fill="#fbfbfb"/>
<rect x="358.3" y="592.5" width="142.3" height="4.2" fill="#0c0c0c"/>
<rect x="358.3" y="596.7" width="142.3" height="4.4" fill="#fbfbfb"/>
<rect x="358.3" y="601.1" width="142.3" height="3.7" fill="#0c0c0c"/>
</g>
</g>
<g stroke="#bcbcbc" stroke-width="1.3" fill="none">
<path d="M361.3,578.0V859.6" stroke="#bcbcbc"/>
<path d="M497.6,578.0V587.0"/>
<path d="M497.3,587.0V859.6" stroke="#bcbcbc" stroke-width="1.5"/>
<path d="M352.3,587.0H497.6"/>
<path d="M429.5,578.0V587.0"/>
<path d="M361.3,859.6H497.6" stroke="#c8c8c8"/>
<path d="M352.3,647.6H361.3"/>
<path d="M352.3,708.2H361.3"/>
<path d="M352.3,768.7H361.3"/>
<path d="M352.3,829.3H361.3"/>
</g>
<g font-family="Liberation Sans, sans-serif" font-size="15.4" fill="#1a1a1a" stroke="#1a1a1a" stroke-width="0.4">
<text x="361.3" y="572.8" text-anchor="middle">0</text>
<text x="429.5" y="572.8" text-anchor="middle">0.5</text>
<text x="496.1" y="572.8" text-anchor="middle">1</text>
<text x="350.0" y="592.4" text-anchor="end">0</text>
<text x="350.0" y="653.0" text-anchor="end">10</text>
<text x="350.0" y="713.6" text-anchor="end">20</text>
<text x="350.0" y="774.1" text-anchor="end">30</text>
<text x="350.0" y="834.7" text-anchor="end">40</text>
</g>
<text x="506.1" y="573.7" font-family="Liberation Sans, sans-serif" font-size="18.6" font-weight="bold" font-style="italic" fill="#1a1a1a">L, м</text>
<text x="329.3" y="877.9" font-family="Liberation Sans, sans-serif" font-size="18.6" font-weight="bold" font-style="italic" fill="#1a1a1a">t, нс</text>
<text x="427.4" y="902.1" text-anchor="middle" font-family="Liberation Sans, sans-serif" font-size="19" fill="#1a1a1a">г) Февраль</text>
<circle cx="371.3" cy="636.9" r="7.1" fill="#fdfdfd" stroke="#1a1a1a" stroke-width="1.15"/>
<path d="M370.96,641.85L370.96,633.63L368.58,635.11L368.58,633.56L371.06,631.95L372.93,631.95L372.93,641.85Z" fill="#111"/>
<circle cx="371.3" cy="671.0" r="7.1" fill="#fdfdfd" stroke="#1a1a1a" stroke-width="1.15"/>
<text x="371.3" y="675.9" text-anchor="middle" font-family="Liberation Sans, sans-serif" font-size="13.6" font-weight="bold" fill="#111">2</text>
<clipPath id="c_d"><rect x="576.8" y="587.0" width="136.4" height="271.6"/></clipPath>
<linearGradient id="g_d" gradientUnits="userSpaceOnUse" x1="0" y1="587.0" x2="0" y2="858.6"><stop offset="0" stop-color="#fff" stop-opacity="0.45"/><stop offset="0.2" stop-color="#fff" stop-opacity="0.45"/><stop offset="0.42" stop-color="#fff" stop-opacity="0.25"/><stop offset="0.5" stop-color="#fff" stop-opacity="0.06"/><stop offset="1" stop-color="#fff" stop-opacity="0.05"/></linearGradient>
<mask id="m_d" maskUnits="userSpaceOnUse" x="576.8" y="587.0" width="136.4" height="271.6"><rect x="576.8" y="587.0" width="136.4" height="271.6" fill="url(#g_d)"/></mask>
<filter id="f_d" color-interpolation-filters="sRGB" filterUnits="userSpaceOnUse" x="576.8" y="587.0" width="136.4" height="271.6"><feTurbulence type="fractalNoise" baseFrequency="0.03 0.30" numOctaves="2" seed="9"/><feColorMatrix type="matrix" values="0.62 0 0 0 0.215  0.62 0 0 0 0.215  0.62 0 0 0 0.215  0 0 0 0 1"/></filter>
<filter id="brk_d" color-interpolation-filters="sRGB" filterUnits="userSpaceOnUse" x="576.8" y="587.0" width="136.4" height="271.6"><feTurbulence type="fractalNoise" baseFrequency="0.11 0.035" numOctaves="2" seed="49" result="n"/><feColorMatrix in="n" type="matrix" values="0 0 0 0 0  0 0 0 0 0  0 0 0 0 0  3.2 0 0 0 -0.9" result="m"/><feGaussianBlur in="SourceGraphic" stdDeviation="0.8" result="b"/><feComposite in="b" in2="m" operator="in"/></filter>
<g clip-path="url(#c_d)">
<rect x="576.8" y="587.0" width="136.4" height="271.6" fill="#868686"/>
<g mask="url(#m_d)"><rect x="576.8" y="587.0" width="136.4" height="271.6" filter="url(#f_d)"/></g>
<g filter="url(#bls)" fill="none" stroke-linecap="round">
</g>
<g filter="url(#bl)" fill="none" stroke-linecap="round">
<path d="M573.8,608.0C581.1,608.1 603.6,608.8 617.7,608.8C631.9,608.8 642.2,608.2 658.6,608.2C675.1,608.2 706.6,608.9 716.2,609.0" stroke="#0c0c0c" stroke-width="2.4640000000000004" opacity="1"/>
<path d="M573.8,611.6C581.1,611.7 604.7,612.1 617.7,612.0C630.7,611.9 640.5,610.9 651.8,610.8C663.2,610.7 675.2,611.5 685.9,611.6C696.7,611.7 711.2,611.4 716.2,611.4" stroke="#fbfbfb" stroke-width="2.9120000000000004" opacity="0.9"/>
<path d="M573.8,615.4C580.0,615.5 599.0,616.2 610.9,616.0C622.8,615.8 632.5,614.2 645.0,614.0C657.5,613.8 674.1,614.8 685.9,615.0C697.8,615.2 711.2,615.3 716.2,615.4" stroke="#464646" stroke-width="2.2" opacity="0.7"/>
<path d="M573.8,619.2C581.1,619.4 604.7,620.5 617.7,620.2C630.7,619.9 640.5,617.9 651.8,617.6C663.2,617.3 675.2,618.3 685.9,618.6C696.7,618.9 711.2,619.4 716.2,619.6" stroke="#cecece" stroke-width="2.6" opacity="0.7"/>
<path d="M573.8,622.6C581.1,622.8 603.6,624.2 617.7,624.0C631.9,623.8 642.2,621.8 658.6,621.6C675.1,621.4 706.6,622.8 716.2,623.0" stroke="#464646" stroke-width="2.2" opacity="0.6"/>
<path d="M573.8,626.4C581.1,626.6 603.6,627.7 617.7,627.6C631.9,627.5 642.2,625.7 658.6,625.6C675.1,625.5 706.6,626.8 716.2,627.0" stroke="#cecece" stroke-width="2.6" opacity="0.7"/>
<path d="M573.8,630.0C581.1,630.2 605.9,631.1 617.7,631.0C629.6,630.9 640.5,629.8 645.0,629.6" stroke="#464646" stroke-width="2.0" opacity="0.5"/>
<path d="M631.4,630.4C638.2,630.3 658.1,630.0 672.3,630.0C686.4,630.0 708.9,630.5 716.2,630.6" stroke="#cecece" stroke-width="2.4" opacity="0.7"/>
<path d="M638.2,633.6C643.9,633.6 662.0,633.5 672.3,633.4C682.5,633.3 692.2,633.1 699.6,633.0C706.9,632.9 713.4,632.7 716.2,632.6" stroke="#0c0c0c" stroke-width="2.9120000000000004" opacity="0.95"/>
<path d="M573.8,635.6C581.1,635.7 603.6,636.0 617.7,636.2C631.9,636.4 646.1,637.0 658.6,637.0C671.1,637.0 683.1,636.6 692.7,636.4C702.3,636.2 712.3,635.9 716.2,635.8" stroke="#fbfbfb" stroke-width="3.136" opacity="1"/>
<path d="M573.8,639.0C581.1,639.1 603.6,639.4 617.7,639.6C631.9,639.8 646.1,640.2 658.6,640.2C671.1,640.2 683.1,639.8 692.7,639.6C702.3,639.4 712.3,639.1 716.2,639.0" stroke="#0c0c0c" stroke-width="3.8080000000000003" opacity="1"/>
<path d="M573.8,643.6C581.1,643.7 603.6,643.9 617.7,644.0C631.9,644.1 646.1,644.3 658.6,644.2C671.1,644.1 683.1,643.8 692.7,643.6C702.3,643.4 712.3,643.1 716.2,643.0" stroke="#fbfbfb" stroke-width="4.48" opacity="1"/>
<path d="M590.4,647.8C596.1,647.8 613.2,647.9 624.5,648.0C635.9,648.1 648.4,648.5 658.6,648.4C668.9,648.3 676.3,647.7 685.9,647.4C695.5,647.1 711.2,646.7 716.2,646.6" stroke="#0c0c0c" stroke-width="3.136" opacity="1"/>
<path d="M590.4,652.0C597.3,652.0 618.9,652.2 631.4,652.2C643.9,652.2 655.2,652.2 665.5,652.0C675.7,651.8 684.3,651.1 692.7,650.8C701.2,650.5 712.3,650.3 716.2,650.2" stroke="#cecece" stroke-width="3.2" opacity="0.9"/>
<path d="M573.8,656.0L716.2,655.0" stroke="#464646" stroke-width="1.8" opacity="0.35"/>
<path d="M597.3,685.6C605.2,685.6 631.4,685.6 645.0,685.4C658.6,685.2 667.2,684.5 679.1,684.4C691.0,684.3 710.0,684.6 716.2,684.6" stroke="#cecece" stroke-width="2.0" opacity="0.5"/>
<path d="M597.3,689.4C604.1,689.4 626.8,689.2 638.2,689.4C649.5,689.6 657.5,690.5 665.5,690.4C673.4,690.3 677.5,689.1 685.9,689.0C694.4,688.9 711.2,689.5 716.2,689.6" stroke="#464646" stroke-width="2.8" opacity="0.9"/>
<path d="M597.3,693.8C604.1,693.8 625.7,693.7 638.2,693.8C650.7,693.9 659.3,694.6 672.3,694.6C685.3,694.6 708.9,694.1 716.2,694.0" stroke="#cecece" stroke-width="3.0" opacity="0.85"/>
<path d="M597.3,697.8C605.2,697.8 625.2,697.7 645.0,697.8C664.8,697.9 704.3,698.1 716.2,698.2" stroke="#464646" stroke-width="2.0" opacity="0.5"/>
<path d="M597.3,701.6L716.2,702.0" stroke="#cecece" stroke-width="2.0" opacity="0.35"/>
</g>
<g filter="url(#brk_d)" fill="none" stroke-linecap="round">
</g>
<g filter="url(#bl2)">
<rect x="573.8" y="587.4" width="142.4" height="4.3" fill="#fbfbfb"/>
<rect x="573.8" y="591.7" width="142.4" height="4.0" fill="#0c0c0c"/>
<rect x="573.8" y="595.7" width="142.4" height="4.3" fill="#fbfbfb"/>
<rect x="573.8" y="600.0" width="142.4" height="4.1" fill="#0c0c0c"/>
<rect x="573.8" y="604.1" width="142.4" height="3.1" fill="#fbfbfb"/>
</g>
</g>
<g stroke="#bcbcbc" stroke-width="1.3" fill="none">
<path d="M576.8,578.0V858.6" stroke="#bcbcbc"/>
<path d="M713.2,578.0V587.0"/>
<path d="M712.9,587.0V858.6" stroke="#bcbcbc" stroke-width="1.5"/>
<path d="M567.8,587.0H713.2"/>
<path d="M645.0,578.0V587.0"/>
<path d="M576.8,858.6H713.2" stroke="#c8c8c8"/>
<path d="M567.8,647.4H576.8"/>
<path d="M567.8,707.7H576.8"/>
<path d="M567.8,768.1H576.8"/>
<path d="M567.8,828.4H576.8"/>
</g>
<g font-family="Liberation Sans, sans-serif" font-size="15.4" fill="#1a1a1a" stroke="#1a1a1a" stroke-width="0.4">
<text x="576.8" y="572.8" text-anchor="middle">0</text>
<text x="645.0" y="572.8" text-anchor="middle">0.5</text>
<text x="711.7" y="572.8" text-anchor="middle">1</text>
<text x="565.5" y="592.4" text-anchor="end">0</text>
<text x="565.5" y="652.8" text-anchor="end">10</text>
<text x="565.5" y="713.1" text-anchor="end">20</text>
<text x="565.5" y="773.5" text-anchor="end">30</text>
<text x="565.5" y="833.8" text-anchor="end">40</text>
</g>
<text x="721.7" y="573.7" font-family="Liberation Sans, sans-serif" font-size="18.6" font-weight="bold" font-style="italic" fill="#1a1a1a">L, м</text>
<text x="544.8" y="876.9" font-family="Liberation Sans, sans-serif" font-size="18.6" font-weight="bold" font-style="italic" fill="#1a1a1a">t, нс</text>
<text x="644.0" y="902.6" text-anchor="middle" font-family="Liberation Sans, sans-serif" font-size="19" fill="#1a1a1a">д) Май</text>
<circle cx="586.3" cy="647.0" r="7.1" fill="#fdfdfd" stroke="#1a1a1a" stroke-width="1.15"/>
<path d="M585.96,651.95L585.96,643.73L583.58,645.21L583.58,643.66L586.06,642.05L587.93,642.05L587.93,651.95Z" fill="#111"/>
<circle cx="586.3" cy="691.8" r="7.1" fill="#fdfdfd" stroke="#1a1a1a" stroke-width="1.15"/>
<text x="586.3" y="696.7" text-anchor="middle" font-family="Liberation Sans, sans-serif" font-size="13.6" font-weight="bold" fill="#111">2</text>
<clipPath id="c_e"><rect x="792.6" y="589.8" width="136.6" height="271.8"/></clipPath>
<linearGradient id="g_e" gradientUnits="userSpaceOnUse" x1="0" y1="589.8" x2="0" y2="861.6"><stop offset="0" stop-color="#fff" stop-opacity="0.6"/><stop offset="0.3" stop-color="#fff" stop-opacity="0.6"/><stop offset="0.55" stop-color="#fff" stop-opacity="0.5"/><stop offset="0.75" stop-color="#fff" stop-opacity="0.12"/><stop offset="1" stop-color="#fff" stop-opacity="0.10"/></linearGradient>
<mask id="m_e" maskUnits="userSpaceOnUse" x="792.6" y="589.8" width="136.6" height="271.8"><rect x="792.6" y="589.8" width="136.6" height="271.8" fill="url(#g_e)"/></mask>
<filter id="f_e" color-interpolation-filters="sRGB" filterUnits="userSpaceOnUse" x="792.6" y="589.8" width="136.6" height="271.8"><feTurbulence type="fractalNoise" baseFrequency="0.03 0.30" numOctaves="2" seed="13"/><feColorMatrix type="matrix" values="0.62 0 0 0 0.215  0.62 0 0 0 0.215  0.62 0 0 0 0.215  0 0 0 0 1"/></filter>
<filter id="brk_e" color-interpolation-filters="sRGB" filterUnits="userSpaceOnUse" x="792.6" y="589.8" width="136.6" height="271.8"><feTurbulence type="fractalNoise" baseFrequency="0.11 0.035" numOctaves="2" seed="53" result="n"/><feColorMatrix in="n" type="matrix" values="0 0 0 0 0  0 0 0 0 0  0 0 0 0 0  3.2 0 0 0 -0.9" result="m"/><feGaussianBlur in="SourceGraphic" stdDeviation="0.8" result="b"/><feComposite in="b" in2="m" operator="in"/></filter>
<g clip-path="url(#c_e)">
<rect x="792.6" y="589.8" width="136.6" height="271.8" fill="#868686"/>
<g mask="url(#m_e)"><rect x="792.6" y="589.8" width="136.6" height="271.8" filter="url(#f_e)"/></g>
<g filter="url(#bls)" fill="none" stroke-linecap="round">
<path d="M789.6,617.2C796.9,617.3 819.4,618.1 833.6,618.0C847.7,617.9 862.0,616.6 874.6,616.6C887.1,616.6 899.1,618.0 908.7,618.2C918.3,618.4 928.3,617.7 932.2,617.6" stroke="#cecece" stroke-width="3.12" opacity="0.9199999999999999"/>
<path d="M789.6,623.8C796.9,623.9 819.4,624.7 833.6,624.6C847.7,624.5 862.0,623.2 874.6,623.2C887.1,623.2 899.1,624.7 908.7,624.8C918.3,624.9 928.3,624.1 932.2,624.0" stroke="#cecece" stroke-width="2.8600000000000003" opacity="0.8049999999999999"/>
<path d="M789.6,630.2C799.2,630.4 830.8,631.2 847.2,631.2C863.7,631.2 874.1,630.1 888.2,630.0C902.4,629.9 924.9,630.3 932.2,630.4" stroke="#cecece" stroke-width="2.8600000000000003" opacity="0.69"/>
<path d="M852.7,711.0C854.5,711.1 860.0,711.6 863.6,711.6C867.3,711.6 872.7,711.1 874.6,711.0" stroke="#cecece" stroke-width="2.8600000000000003" opacity="0.69"/>
<path d="M852.7,718.4C855.0,718.5 862.3,719.1 866.4,719.2C870.5,719.3 875.5,719.2 877.3,719.2" stroke="#cecece" stroke-width="3.12" opacity="0.69"/>
<path d="M789.6,614.0C798.1,614.2 826.3,615.3 840.4,615.2C854.6,615.1 863.2,613.7 874.6,613.6C885.9,613.5 899.1,614.7 908.7,614.8C918.3,614.9 928.3,614.5 932.2,614.4" stroke="#464646" stroke-width="2.6" opacity="0.9199999999999999"/>
<path d="M789.6,620.6C796.9,620.7 819.4,621.3 833.6,621.2C847.7,621.1 862.0,619.9 874.6,620.0C887.1,620.1 899.1,621.4 908.7,621.6C918.3,621.8 928.3,621.1 932.2,621.0" stroke="#464646" stroke-width="2.6" opacity="0.69"/>
<path d="M789.6,627.0C799.2,627.2 830.8,628.1 847.2,628.0C863.7,627.9 874.1,626.7 888.2,626.6C902.4,626.5 924.9,627.3 932.2,627.4" stroke="#464646" stroke-width="2.6" opacity="0.575"/>
<path d="M833.6,720.6L844.5,720.8" stroke="#464646" stroke-width="2.8600000000000003" opacity="0.575"/>
<path d="M850.0,714.0C852.2,714.1 859.1,714.5 863.6,714.6C868.2,714.7 875.0,714.4 877.3,714.4" stroke="#464646" stroke-width="3.3800000000000003" opacity="0.8624999999999999"/>
<path d="M880.0,723.0C882.5,722.8 890.0,722.4 895.1,722.0C900.1,721.6 907.6,720.8 910.1,720.6" stroke="#464646" stroke-width="2.8600000000000003" opacity="0.45999999999999996"/>
<path d="M826.8,708.8C828.6,708.7 834.0,708.4 837.7,708.4C841.3,708.4 846.8,708.9 848.6,709.0" stroke="#fbfbfb" stroke-width="2.7300000000000004" opacity="0.8624999999999999"/>
<path d="M828.1,717.0C829.7,717.0 834.3,716.8 837.7,716.9C841.1,717.0 846.8,717.3 848.6,717.4" stroke="#fbfbfb" stroke-width="2.7300000000000004" opacity="0.8624999999999999"/>
<path d="M877.3,711.2C879.1,711.0 884.6,710.6 888.2,710.2C891.9,709.8 895.3,709.4 899.1,709.0C903.0,708.6 909.4,708.0 911.4,707.8" stroke="#fbfbfb" stroke-width="2.9899999999999998" opacity="0.9199999999999999"/>
<path d="M877.3,719.4C879.1,719.3 884.6,719.2 888.2,719.0C891.9,718.8 895.3,718.4 899.1,718.0C903.0,717.6 909.4,716.8 911.4,716.6" stroke="#fbfbfb" stroke-width="2.9899999999999998" opacity="0.9199999999999999"/>
<path d="M826.8,712.8C828.6,712.8 834.1,712.5 837.7,712.5C841.2,712.5 846.2,712.8 847.9,712.8" stroke="#0c0c0c" stroke-width="3.3800000000000003" opacity="1"/>
<path d="M879.3,715.0C880.8,714.9 884.9,714.7 888.2,714.4C891.5,714.1 895.5,713.7 899.1,713.4C902.8,713.1 908.3,712.6 910.1,712.4" stroke="#0c0c0c" stroke-width="3.77" opacity="1"/>
</g>
<g filter="url(#bl)" fill="none" stroke-linecap="round">
<path d="M789.6,634.6C796.9,634.8 819.4,635.1 833.6,635.6C847.7,636.1 862.0,637.1 874.6,637.6C887.1,638.1 899.1,638.6 908.7,638.6C918.3,638.6 928.3,637.6 932.2,637.4" stroke="#fbfbfb" stroke-width="3.3600000000000003" opacity="0.95"/>
<path d="M789.6,638.8C796.9,638.9 820.6,639.1 833.6,639.6C846.6,640.1 856.3,641.1 867.7,641.6C879.1,642.1 891.1,642.9 901.9,642.8C912.6,642.7 927.1,641.5 932.2,641.2" stroke="#0c0c0c" stroke-width="3.3600000000000003" opacity="1"/>
<path d="M806.3,643.0C810.8,643.1 823.3,643.2 833.6,643.6C843.8,644.0 856.3,645.0 867.7,645.6C879.1,646.2 891.1,647.1 901.9,647.0C912.6,646.9 927.1,645.5 932.2,645.2" stroke="#fbfbfb" stroke-width="3.8080000000000003" opacity="1"/>
<path d="M809.0,647.4C813.1,647.4 828.1,647.4 833.6,647.6C839.0,647.8 836.1,648.3 841.8,648.6C847.5,648.9 857.7,649.2 867.7,649.6C877.7,650.0 891.1,651.3 901.9,651.2C912.6,651.1 927.1,649.5 932.2,649.2" stroke="#0c0c0c" stroke-width="3.5840000000000005" opacity="1"/>
<path d="M809.0,651.6L826.8,652.2" stroke="#cecece" stroke-width="2.9899999999999998" opacity="1"/>
<path d="M840.4,655.0C843.8,654.7 854.1,653.6 860.9,653.4C867.7,653.2 878.0,653.9 881.4,654.0" stroke="#cecece" stroke-width="3.2199999999999998" opacity="1"/>
<path d="M888.2,656.0C891.6,655.8 901.4,655.5 908.7,655.0C916.0,654.5 928.3,653.3 932.2,653.0" stroke="#cecece" stroke-width="3.2199999999999998" opacity="1"/>
<path d="M919.6,706.0C920.3,706.7 921.6,709.8 923.7,710.0C925.8,710.2 930.8,707.5 932.2,707.0" stroke="#cecece" stroke-width="2.76" opacity="1"/>
<path d="M919.6,710.0C920.3,710.7 921.6,713.8 923.7,714.0C925.8,714.2 930.8,711.5 932.2,711.0" stroke="#0c0c0c" stroke-width="2.688" opacity="0.8"/>
<path d="M919.6,714.0C920.3,714.7 921.6,717.8 923.7,718.0C925.8,718.2 930.8,715.5 932.2,715.0" stroke="#cecece" stroke-width="2.76" opacity="1"/>
</g>
<g filter="url(#brk_e)" fill="none" stroke-linecap="round">
</g>
<g filter="url(#bl2)">
<rect x="789.6" y="591.6" width="142.6" height="1.4" fill="#0c0c0c"/>
<rect x="789.6" y="593.0" width="142.6" height="4.1" fill="#fbfbfb"/>
<rect x="789.6" y="597.1" width="142.6" height="4.4" fill="#0c0c0c"/>
<rect x="789.6" y="601.5" width="142.6" height="4.8" fill="#fbfbfb"/>
<rect x="789.6" y="606.3" width="142.6" height="3.3" fill="#0c0c0c"/>
<rect x="789.6" y="609.6" width="142.6" height="2.8" fill="#fbfbfb"/>
</g>
</g>
<g stroke="#bcbcbc" stroke-width="1.3" fill="none">
<path d="M792.6,580.8V861.6" stroke="#bcbcbc"/>
<path d="M929.2,580.8V589.8"/>
<path d="M928.9,589.8V861.6" stroke="#9fb9b7" stroke-width="2.0"/>
<path d="M783.6,589.8H929.2"/>
<path d="M860.9,580.8V589.8"/>
<path d="M792.6,861.6H929.2" stroke="#c8c8c8"/>
<path d="M783.6,650.2H792.6"/>
<path d="M783.6,710.6H792.6"/>
<path d="M783.6,771.0H792.6"/>
<path d="M783.6,831.4H792.6"/>
</g>
<g font-family="Liberation Sans, sans-serif" font-size="15.4" fill="#1a1a1a" stroke="#1a1a1a" stroke-width="0.4">
<text x="792.6" y="575.6" text-anchor="middle">0</text>
<text x="860.9" y="575.6" text-anchor="middle">0.5</text>
<text x="927.7" y="575.6" text-anchor="middle">1</text>
<text x="781.3" y="595.2" text-anchor="end">0</text>
<text x="781.3" y="655.6" text-anchor="end">10</text>
<text x="781.3" y="716.0" text-anchor="end">20</text>
<text x="781.3" y="776.4" text-anchor="end">30</text>
<text x="781.3" y="836.8" text-anchor="end">40</text>
</g>
<text x="937.7" y="576.5" font-family="Liberation Sans, sans-serif" font-size="18.6" font-weight="bold" font-style="italic" fill="#1a1a1a">L, м</text>
<text x="760.6" y="879.9" font-family="Liberation Sans, sans-serif" font-size="18.6" font-weight="bold" font-style="italic" fill="#1a1a1a">t, нс</text>
<text x="866.8" y="903.5" text-anchor="middle" font-family="Liberation Sans, sans-serif" font-size="19" fill="#1a1a1a">е) Октябрь</text>
<circle cx="801.6" cy="650.2" r="7.1" fill="#fdfdfd" stroke="#1a1a1a" stroke-width="1.15"/>
<path d="M801.26,655.15L801.26,646.93L798.88,648.41L798.88,646.86L801.36,645.25L803.23,645.25L803.23,655.15Z" fill="#111"/>
<circle cx="809.9" cy="712.2" r="7.1" fill="#fdfdfd" stroke="#1a1a1a" stroke-width="1.15"/>
<text x="809.9" y="717.1" text-anchor="middle" font-family="Liberation Sans, sans-serif" font-size="13.6" font-weight="bold" fill="#111">2</text>
<clipPath id="c_zh"><rect x="359.4" y="969.0" width="135.0" height="272.6"/></clipPath>
<linearGradient id="g_zh" gradientUnits="userSpaceOnUse" x1="0" y1="969.0" x2="0" y2="1241.6"><stop offset="0" stop-color="#fff" stop-opacity="0.5"/><stop offset="0.2" stop-color="#fff" stop-opacity="0.5"/><stop offset="0.42" stop-color="#fff" stop-opacity="0.3"/><stop offset="0.55" stop-color="#fff" stop-opacity="0.06"/><stop offset="1" stop-color="#fff" stop-opacity="0.05"/></linearGradient>
<mask id="m_zh" maskUnits="userSpaceOnUse" x="359.4" y="969.0" width="135.0" height="272.6"><rect x="359.4" y="969.0" width="135.0" height="272.6" fill="url(#g_zh)"/></mask>
<filter id="f_zh" color-interpolation-filters="sRGB" filterUnits="userSpaceOnUse" x="359.4" y="969.0" width="135.0" height="272.6"><feTurbulence type="fractalNoise" baseFrequency="0.03 0.30" numOctaves="2" seed="17"/><feColorMatrix type="matrix" values="0.62 0 0 0 0.215  0.62 0 0 0 0.215  0.62 0 0 0 0.215  0 0 0 0 1"/></filter>
<filter id="brk_zh" color-interpolation-filters="sRGB" filterUnits="userSpaceOnUse" x="359.4" y="969.0" width="135.0" height="272.6"><feTurbulence type="fractalNoise" baseFrequency="0.11 0.035" numOctaves="2" seed="57" result="n"/><feColorMatrix in="n" type="matrix" values="0 0 0 0 0  0 0 0 0 0  0 0 0 0 0  3.2 0 0 0 -0.9" result="m"/><feGaussianBlur in="SourceGraphic" stdDeviation="0.8" result="b"/><feComposite in="b" in2="m" operator="in"/></filter>
<g clip-path="url(#c_zh)">
<rect x="359.4" y="969.0" width="135.0" height="272.6" fill="#868686"/>
<g mask="url(#m_zh)"><rect x="359.4" y="969.0" width="135.0" height="272.6" filter="url(#f_zh)"/></g>
<g filter="url(#bls)" fill="none" stroke-linecap="round">
</g>
<g filter="url(#bl)" fill="none" stroke-linecap="round">
<path d="M356.4,989.8C368.1,989.8 403.4,989.5 426.9,989.6C450.4,989.7 485.6,990.1 497.4,990.2" stroke="#fbfbfb" stroke-width="2.0160000000000005" opacity="0.85"/>
<path d="M356.4,992.4C368.1,992.3 412.4,991.9 426.9,992.0C441.3,992.1 436.3,993.0 443.1,993.0C449.8,993.0 458.3,992.2 467.4,992.2C476.4,992.2 492.4,992.7 497.4,992.8" stroke="#464646" stroke-width="2.4" opacity="0.85"/>
<path d="M356.4,995.6C368.1,995.6 412.4,995.2 426.9,995.4C441.3,995.6 436.3,996.8 443.1,996.8C449.8,996.8 458.3,995.7 467.4,995.6C476.4,995.5 492.4,995.9 497.4,996.0" stroke="#cecece" stroke-width="3.0" opacity="0.85"/>
<path d="M356.4,998.8C368.1,998.8 412.4,998.4 426.9,998.6C441.3,998.8 436.3,999.9 443.1,1000.0C449.8,1000.1 458.3,999.1 467.4,999.0C476.4,998.9 492.4,999.3 497.4,999.4" stroke="#464646" stroke-width="1.8" opacity="0.6"/>
<path d="M356.4,1001.8C368.1,1001.8 412.4,1001.6 426.9,1001.8C441.3,1002.0 436.3,1003.0 443.1,1003.0C449.8,1003.0 458.3,1002.1 467.4,1002.0C476.4,1001.9 492.4,1002.5 497.4,1002.6" stroke="#cecece" stroke-width="3.2" opacity="0.9"/>
<path d="M372.9,1005.6C380.8,1005.6 408.9,1005.6 420.1,1005.8C431.4,1006.0 435.2,1006.8 440.4,1006.8C445.6,1006.8 445.6,1006.1 451.2,1006.0C456.8,1005.9 466.4,1005.8 474.1,1006.2C481.8,1006.6 493.5,1007.9 497.4,1008.2" stroke="#0c0c0c" stroke-width="3.136" opacity="1"/>
<path d="M356.4,1010.6C359.6,1010.6 365.0,1010.4 375.6,1010.4C386.2,1010.4 408.9,1010.2 420.1,1010.6C431.4,1011.0 436.3,1011.9 443.1,1012.6C449.8,1013.3 455.5,1014.6 460.6,1014.6C465.8,1014.6 468.0,1012.8 474.1,1012.4C480.3,1012.0 493.5,1012.4 497.4,1012.4" stroke="#fbfbfb" stroke-width="6.720000000000001" opacity="1"/>
<path d="M448.5,1009.4C450.5,1009.4 457.0,1009.6 460.6,1009.6C464.2,1009.6 468.5,1009.3 470.1,1009.2" stroke="#fbfbfb" stroke-width="2.9120000000000004" opacity="0.95"/>
<path d="M445.8,1011.4C448.0,1011.5 454.8,1012.3 459.3,1012.2C463.8,1012.1 470.5,1011.0 472.8,1010.8" stroke="#0c0c0c" stroke-width="2.0160000000000005" opacity="0.9"/>
<path d="M356.4,1015.8C359.6,1015.8 365.0,1015.6 375.6,1015.6C386.2,1015.6 408.9,1015.5 420.1,1015.8C431.4,1016.1 436.6,1017.1 443.1,1017.6C449.6,1018.1 454.1,1018.9 459.3,1018.8C464.5,1018.7 467.8,1017.2 474.1,1016.8C480.5,1016.4 493.5,1016.6 497.4,1016.6" stroke="#0c0c0c" stroke-width="3.5840000000000005" opacity="1"/>
<path d="M356.4,1019.6C363.6,1019.6 388.1,1019.7 399.9,1019.8C411.6,1019.9 419.0,1019.9 426.9,1020.2C434.8,1020.5 440.8,1021.2 447.1,1021.6C453.4,1022.0 459.1,1022.6 464.7,1022.4C470.3,1022.2 475.4,1020.9 480.9,1020.6C486.3,1020.3 494.6,1020.4 497.4,1020.4" stroke="#fbfbfb" stroke-width="3.3600000000000003" opacity="0.95"/>
<path d="M356.4,1022.6C363.6,1022.7 388.1,1022.9 399.9,1023.0C411.6,1023.1 422.4,1023.3 426.9,1023.4" stroke="#464646" stroke-width="2.0" opacity="0.6"/>
<path d="M381.0,1047.6C386.4,1047.7 403.9,1047.7 413.4,1048.0C422.8,1048.3 431.4,1049.3 437.7,1049.4C444.0,1049.5 445.8,1049.1 451.2,1048.6C456.6,1048.1 462.4,1046.7 470.1,1046.2C477.8,1045.7 492.8,1045.9 497.4,1045.8" stroke="#0c0c0c" stroke-width="2.688" opacity="0.5"/>
<path d="M426.9,1056.0C430.3,1056.1 440.4,1056.7 447.1,1056.4C453.9,1056.1 459.0,1054.5 467.4,1054.0C475.8,1053.5 492.4,1053.7 497.4,1053.6" stroke="#464646" stroke-width="2.2" opacity="0.6"/>
<path d="M453.9,1058.0L474.1,1057.6" stroke="#cecece" stroke-width="2.0" opacity="0.5"/>
<path d="M453.9,1061.4L474.1,1061.0" stroke="#464646" stroke-width="2.0" opacity="0.5"/>
<path d="M356.4,1083.6L497.4,1083.0" stroke="#cecece" stroke-width="2.0" opacity="0.18"/>
<path d="M356.4,1087.0L497.4,1086.4" stroke="#464646" stroke-width="2.0" opacity="0.18"/>
<path d="M356.4,1090.6L497.4,1090.0" stroke="#cecece" stroke-width="2.0" opacity="0.15"/>
</g>
<g filter="url(#brk_zh)" fill="none" stroke-linecap="round">
<path d="M383.7,1044.0C389.8,1044.2 410.2,1044.7 420.1,1045.0C430.0,1045.3 435.2,1046.1 443.1,1045.8C451.0,1045.5 458.3,1043.9 467.4,1043.4C476.4,1042.9 492.4,1042.7 497.4,1042.6" stroke="#cecece" stroke-width="2.0" opacity="0.5"/>
<path d="M381.0,1047.6C386.4,1047.7 403.9,1047.7 413.4,1048.0C422.8,1048.3 431.4,1049.3 437.7,1049.4C444.0,1049.5 445.8,1049.1 451.2,1048.6C456.6,1048.1 462.4,1046.7 470.1,1046.2C477.8,1045.7 492.8,1045.9 497.4,1045.8" stroke="#0c0c0c" stroke-width="2.6" opacity="0.9"/>
<path d="M381.0,1051.4C386.4,1051.4 403.5,1051.3 413.4,1051.6C423.3,1051.9 433.2,1053.0 440.4,1053.0C447.6,1053.0 451.0,1051.9 456.6,1051.4C462.2,1050.9 467.3,1050.1 474.1,1049.8C480.9,1049.5 493.5,1049.8 497.4,1049.8" stroke="#fbfbfb" stroke-width="2.2" opacity="0.55"/>
</g>
<g filter="url(#bl2)">
<rect x="356.4" y="969.8" width="141.0" height="2.0" fill="#0c0c0c"/>
<rect x="356.4" y="971.8" width="141.0" height="4.1" fill="#fbfbfb"/>
<rect x="356.4" y="975.9" width="141.0" height="5.0" fill="#0c0c0c"/>
<rect x="356.4" y="980.9" width="141.0" height="4.1" fill="#fbfbfb"/>
<rect x="356.4" y="985.0" width="141.0" height="3.8" fill="#0c0c0c"/>
</g>
</g>
<g stroke="#bcbcbc" stroke-width="1.3" fill="none">
<path d="M359.4,960.0V1241.6" stroke="#bcbcbc"/>
<path d="M494.4,960.0V969.0"/>
<path d="M494.1,969.0V1241.6" stroke="#bcbcbc" stroke-width="1.5"/>
<path d="M350.4,969.0H494.4"/>
<path d="M426.9,960.0V969.0"/>
<path d="M359.4,1241.6H494.4" stroke="#c8c8c8"/>
<path d="M350.4,1029.6H359.4"/>
<path d="M350.4,1090.2H359.4"/>
<path d="M350.4,1150.7H359.4"/>
<path d="M350.4,1211.3H359.4"/>
</g>
<g font-family="Liberation Sans, sans-serif" font-size="15.4" fill="#1a1a1a" stroke="#1a1a1a" stroke-width="0.4">
<text x="359.4" y="954.8" text-anchor="middle">0</text>
<text x="426.9" y="954.8" text-anchor="middle">0.5</text>
<text x="492.9" y="954.8" text-anchor="middle">1</text>
<text x="348.1" y="974.4" text-anchor="end">0</text>
<text x="348.1" y="1035.0" text-anchor="end">10</text>
<text x="348.1" y="1095.6" text-anchor="end">20</text>
<text x="348.1" y="1156.1" text-anchor="end">30</text>
<text x="348.1" y="1216.7" text-anchor="end">40</text>
</g>
<text x="502.9" y="955.7" font-family="Liberation Sans, sans-serif" font-size="18.6" font-weight="bold" font-style="italic" fill="#1a1a1a">L, м</text>
<text x="327.4" y="1259.9" font-family="Liberation Sans, sans-serif" font-size="18.6" font-weight="bold" font-style="italic" fill="#1a1a1a">t, нс</text>
<text x="430.0" y="1284.4" text-anchor="middle" font-family="Liberation Sans, sans-serif" font-size="19" fill="#1a1a1a">ж) Февраль</text>
<circle cx="370.5" cy="1010.8" r="7.1" fill="#fdfdfd" stroke="#1a1a1a" stroke-width="1.15"/>
<path d="M370.16,1015.75L370.16,1007.53L367.78,1009.01L367.78,1007.46L370.26,1005.85L372.13,1005.85L372.13,1015.75Z" fill="#111"/>
<circle cx="370.5" cy="1048.4" r="7.1" fill="#fdfdfd" stroke="#1a1a1a" stroke-width="1.15"/>
<text x="370.5" y="1053.3" text-anchor="middle" font-family="Liberation Sans, sans-serif" font-size="13.6" font-weight="bold" fill="#111">2</text>
<clipPath id="c_z"><rect x="574.6" y="969.0" width="135.2" height="272.0"/></clipPath>
<linearGradient id="g_z" gradientUnits="userSpaceOnUse" x1="0" y1="969.0" x2="0" y2="1241.0"><stop offset="0" stop-color="#fff" stop-opacity="0.6"/><stop offset="0.3" stop-color="#fff" stop-opacity="0.6"/><stop offset="0.55" stop-color="#fff" stop-opacity="0.5"/><stop offset="0.8" stop-color="#fff" stop-opacity="0.12"/><stop offset="1" stop-color="#fff" stop-opacity="0.10"/></linearGradient>
<mask id="m_z" maskUnits="userSpaceOnUse" x="574.6" y="969.0" width="135.2" height="272.0"><rect x="574.6" y="969.0" width="135.2" height="272.0" fill="url(#g_z)"/></mask>
<filter id="f_z" color-interpolation-filters="sRGB" filterUnits="userSpaceOnUse" x="574.6" y="969.0" width="135.2" height="272.0"><feTurbulence type="fractalNoise" baseFrequency="0.03 0.30" numOctaves="2" seed="19"/><feColorMatrix type="matrix" values="0.62 0 0 0 0.215  0.62 0 0 0 0.215  0.62 0 0 0 0.215  0 0 0 0 1"/></filter>
<filter id="brk_z" color-interpolation-filters="sRGB" filterUnits="userSpaceOnUse" x="574.6" y="969.0" width="135.2" height="272.0"><feTurbulence type="fractalNoise" baseFrequency="0.11 0.035" numOctaves="2" seed="59" result="n"/><feColorMatrix in="n" type="matrix" values="0 0 0 0 0  0 0 0 0 0  0 0 0 0 0  3.2 0 0 0 -0.9" result="m"/><feGaussianBlur in="SourceGraphic" stdDeviation="0.8" result="b"/><feComposite in="b" in2="m" operator="in"/></filter>
<g clip-path="url(#c_z)">
<rect x="574.6" y="969.0" width="135.2" height="272.0" fill="#868686"/>
<g mask="url(#m_z)"><rect x="574.6" y="969.0" width="135.2" height="272.0" filter="url(#f_z)"/></g>
<g filter="url(#bls)" fill="none" stroke-linecap="round">
<path d="M571.6,1013.4L596.2,1013.8" stroke="#cecece" stroke-width="3.12" opacity="0.8049999999999999"/>
<path d="M594.9,1033.8C602.8,1033.8 627.6,1033.8 642.2,1033.8C656.8,1033.8 671.0,1033.6 682.8,1033.6C694.5,1033.6 707.8,1033.9 712.8,1034.0" stroke="#cecece" stroke-width="3.9000000000000004" opacity="0.8049999999999999"/>
<path d="M588.1,1003.4C594.9,1003.3 618.5,1002.8 628.7,1003.0C638.8,1003.2 642.2,1004.1 649.0,1004.4C655.7,1004.7 658.6,1004.8 669.2,1004.6C679.9,1004.4 705.5,1003.3 712.8,1003.0" stroke="#464646" stroke-width="2.8600000000000003" opacity="0.69"/>
<path d="M571.6,1006.4C576.2,1006.5 591.7,1006.9 598.9,1007.2C606.2,1007.5 606.8,1008.0 615.2,1008.2C623.5,1008.4 641.7,1008.8 649.0,1008.6C656.2,1008.4 650.5,1007.5 658.4,1007.2C666.3,1006.9 687.2,1006.6 696.3,1006.6C705.3,1006.6 710.0,1007.3 712.8,1007.4" stroke="#fbfbfb" stroke-width="3.6399999999999997" opacity="1"/>
<path d="M601.6,1013.6C605.0,1013.7 615.2,1013.8 621.9,1014.0C628.7,1014.2 638.8,1014.5 642.2,1014.6" stroke="#fbfbfb" stroke-width="3.3800000000000003" opacity="1"/>
<path d="M653.0,1013.6C658.0,1013.7 672.8,1014.0 682.8,1014.0C692.7,1014.0 707.8,1013.5 712.8,1013.4" stroke="#fbfbfb" stroke-width="3.6399999999999997" opacity="1"/>
<path d="M619.2,1020.0C623.0,1020.1 635.2,1020.3 642.2,1020.6C649.2,1020.9 658.0,1021.4 661.1,1021.6" stroke="#fbfbfb" stroke-width="3.3800000000000003" opacity="1"/>
<path d="M690.9,1019.4L712.8,1019.8" stroke="#fbfbfb" stroke-width="3.12" opacity="1"/>
<path d="M593.5,1025.6C599.4,1025.6 619.4,1025.7 628.7,1025.8C637.9,1025.9 642.7,1026.1 649.0,1026.4C655.3,1026.7 663.6,1027.2 666.5,1027.4" stroke="#fbfbfb" stroke-width="4.16" opacity="1"/>
<path d="M688.2,1025.6C690.0,1025.7 694.9,1025.9 699.0,1026.0C703.1,1026.1 710.5,1026.2 712.8,1026.2" stroke="#fbfbfb" stroke-width="3.6399999999999997" opacity="1"/>
<path d="M571.6,1010.0L594.9,1010.4" stroke="#0c0c0c" stroke-width="3.12" opacity="0.9774999999999999"/>
<path d="M609.8,1011.0C612.9,1011.0 622.8,1011.1 628.7,1011.2C634.5,1011.3 642.2,1011.5 644.9,1011.6" stroke="#0c0c0c" stroke-width="3.12" opacity="0.9774999999999999"/>
<path d="M655.7,1010.2C660.2,1010.2 675.5,1010.5 682.8,1010.4C690.0,1010.3 696.3,1009.9 699.0,1009.8" stroke="#0c0c0c" stroke-width="2.8600000000000003" opacity="0.8624999999999999"/>
<path d="M612.5,1017.0C615.2,1017.1 623.7,1017.2 628.7,1017.4C633.6,1017.6 639.9,1017.9 642.2,1018.0" stroke="#0c0c0c" stroke-width="3.12" opacity="0.9774999999999999"/>
<path d="M655.7,1017.2C659.8,1017.3 672.8,1017.6 680.1,1017.6C687.3,1017.6 695.8,1017.1 699.0,1017.0" stroke="#0c0c0c" stroke-width="3.12" opacity="0.9774999999999999"/>
<path d="M642.2,1023.2C644.5,1023.3 651.4,1023.6 655.7,1023.8C660.0,1024.0 665.9,1024.1 667.9,1024.2" stroke="#0c0c0c" stroke-width="3.6399999999999997" opacity="1"/>
<path d="M692.2,1022.6L712.8,1022.8" stroke="#0c0c0c" stroke-width="3.12" opacity="1"/>
<path d="M596.2,1029.2C601.6,1029.2 619.9,1028.9 628.7,1029.0C637.5,1029.1 643.1,1029.5 649.0,1029.8C654.8,1030.1 661.4,1030.5 663.8,1030.6" stroke="#0c0c0c" stroke-width="3.3800000000000003" opacity="1"/>
<path d="M690.9,1029.2L712.8,1029.6" stroke="#0c0c0c" stroke-width="3.12" opacity="1"/>
</g>
<g filter="url(#bl)" fill="none" stroke-linecap="round">
<path d="M571.6,992.8C583.4,992.8 618.7,992.5 642.2,992.6C665.7,992.7 701.0,993.1 712.8,993.2" stroke="#464646" stroke-width="1.8399999999999999" opacity="1"/>
<path d="M571.6,995.8C583.4,995.8 618.7,995.5 642.2,995.6C665.7,995.7 701.0,996.1 712.8,996.2" stroke="#fbfbfb" stroke-width="3.5840000000000005" opacity="1"/>
<path d="M571.6,1000.4C575.5,1000.3 583.1,999.8 594.9,999.6C606.6,999.4 627.6,999.4 642.2,999.4C656.8,999.4 671.0,999.7 682.8,999.6C694.5,999.5 707.8,998.8 712.8,998.6" stroke="#0c0c0c" stroke-width="3.3600000000000003" opacity="1"/>
<path d="M571.6,1037.6L712.8,1037.6" stroke="#464646" stroke-width="2.3" opacity="0.58"/>
<path d="M571.6,1070.2L581.4,1070.6" stroke="#0c0c0c" stroke-width="3.3600000000000003" opacity="0.95"/>
<path d="M611.1,1069.6C614.0,1069.8 623.5,1070.6 628.7,1070.6C633.9,1070.6 639.9,1069.9 642.2,1069.8" stroke="#0c0c0c" stroke-width="2.688" opacity="0.7"/>
<path d="M644.9,1071.2C647.2,1071.1 653.9,1070.9 658.4,1070.4C662.9,1069.9 666.8,1068.7 671.9,1068.4C677.1,1068.1 686.6,1068.4 689.5,1068.4" stroke="#0c0c0c" stroke-width="3.136" opacity="0.95"/>
<path d="M692.2,1069.0L712.8,1069.4" stroke="#464646" stroke-width="2.76" opacity="1"/>
<path d="M615.2,1077.6C619.7,1077.8 634.3,1078.4 642.2,1078.6C650.1,1078.8 655.7,1079.3 662.5,1079.0C669.2,1078.7 674.4,1077.0 682.8,1076.6C691.1,1076.2 707.8,1076.8 712.8,1076.8" stroke="#464646" stroke-width="2.53" opacity="0.58"/>
<path d="M615.2,1081.4C619.7,1081.6 634.3,1082.2 642.2,1082.4C650.1,1082.6 655.7,1083.1 662.5,1082.8C669.2,1082.5 674.4,1080.8 682.8,1080.4C691.1,1080.0 707.8,1080.6 712.8,1080.6" stroke="#cecece" stroke-width="2.3" opacity="0.435"/>
<path d="M628.7,1086.0C634.3,1086.1 653.5,1086.9 662.5,1086.6C671.5,1086.3 679.4,1084.8 682.8,1084.4" stroke="#464646" stroke-width="2.3" opacity="0.3625"/>
</g>
<g filter="url(#brk_z)" fill="none" stroke-linecap="round">
<path d="M571.6,1066.4C573.5,1066.5 575.5,1066.8 582.7,1066.8C590.0,1066.8 605.2,1066.1 615.2,1066.2C625.1,1066.3 634.3,1067.4 642.2,1067.2C650.1,1067.0 654.6,1065.3 662.5,1064.8C670.4,1064.3 681.1,1064.1 689.5,1064.2C697.9,1064.3 708.9,1065.0 712.8,1065.2" stroke="#fbfbfb" stroke-width="2.2" opacity="0.6"/>
<path d="M571.6,1074.2C573.5,1074.2 575.5,1074.5 582.7,1074.4C590.0,1074.3 606.4,1073.4 615.2,1073.4C623.9,1073.4 628.7,1074.3 635.4,1074.6C642.2,1074.9 649.6,1075.5 655.7,1075.2C661.8,1074.9 665.2,1073.2 671.9,1072.8C678.7,1072.4 689.5,1072.5 696.3,1072.6C703.1,1072.7 710.0,1073.1 712.8,1073.2" stroke="#fbfbfb" stroke-width="2.6" opacity="0.7"/>
</g>
<g filter="url(#bl2)">
<rect x="571.6" y="970.2" width="141.2" height="2.1" fill="#0c0c0c"/>
<rect x="571.6" y="972.3" width="141.2" height="4.7" fill="#fbfbfb"/>
<rect x="571.6" y="977.0" width="141.2" height="4.0" fill="#0c0c0c"/>
<rect x="571.6" y="981.0" width="141.2" height="4.4" fill="#fbfbfb"/>
<rect x="571.6" y="985.4" width="141.2" height="4.0" fill="#0c0c0c"/>
<rect x="571.6" y="989.4" width="141.2" height="2.4" fill="#fbfbfb"/>
</g>
</g>
<g stroke="#bcbcbc" stroke-width="1.3" fill="none">
<path d="M574.6,960.0V1241.0" stroke="#bcbcbc"/>
<path d="M709.8,960.0V969.0"/>
<path d="M709.5,969.0V1241.0" stroke="#bcbcbc" stroke-width="1.5"/>
<path d="M565.6,969.0H709.8"/>
<path d="M642.2,960.0V969.0"/>
<path d="M574.6,1241.0H709.8" stroke="#c8c8c8"/>
<path d="M565.6,1029.4H574.6"/>
<path d="M565.6,1089.9H574.6"/>
<path d="M565.6,1150.3H574.6"/>
<path d="M565.6,1210.8H574.6"/>
</g>
<g font-family="Liberation Sans, sans-serif" font-size="15.4" fill="#1a1a1a" stroke="#1a1a1a" stroke-width="0.4">
<text x="574.6" y="954.8" text-anchor="middle">0</text>
<text x="642.2" y="954.8" text-anchor="middle">0.5</text>
<text x="708.3" y="954.8" text-anchor="middle">1</text>
<text x="563.3" y="974.4" text-anchor="end">0</text>
<text x="563.3" y="1034.8" text-anchor="end">10</text>
<text x="563.3" y="1095.3" text-anchor="end">20</text>
<text x="563.3" y="1155.7" text-anchor="end">30</text>
<text x="563.3" y="1216.2" text-anchor="end">40</text>
</g>
<text x="718.3" y="955.7" font-family="Liberation Sans, sans-serif" font-size="18.6" font-weight="bold" font-style="italic" fill="#1a1a1a">L, м</text>
<text x="542.6" y="1259.3" font-family="Liberation Sans, sans-serif" font-size="18.6" font-weight="bold" font-style="italic" fill="#1a1a1a">t, нс</text>
<text x="643.5" y="1284.1" text-anchor="middle" font-family="Liberation Sans, sans-serif" font-size="19" fill="#1a1a1a">з) Май</text>
<circle cx="586.8" cy="1029.8" r="7.1" fill="#fdfdfd" stroke="#1a1a1a" stroke-width="1.15"/>
<path d="M586.46,1034.75L586.46,1026.53L584.08,1028.01L584.08,1026.46L586.56,1024.85L588.43,1024.85L588.43,1034.75Z" fill="#111"/>
<circle cx="591.3" cy="1070.2" r="7.1" fill="#fdfdfd" stroke="#1a1a1a" stroke-width="1.15"/>
<text x="591.3" y="1075.1" text-anchor="middle" font-family="Liberation Sans, sans-serif" font-size="13.6" font-weight="bold" fill="#111">2</text>
<clipPath id="c_i"><rect x="789.6" y="972.4" width="136.4" height="272.6"/></clipPath>
<linearGradient id="g_i" gradientUnits="userSpaceOnUse" x1="0" y1="972.4" x2="0" y2="1245.0"><stop offset="0" stop-color="#fff" stop-opacity="0.6"/><stop offset="0.3" stop-color="#fff" stop-opacity="0.6"/><stop offset="0.5" stop-color="#fff" stop-opacity="0.45"/><stop offset="0.68" stop-color="#fff" stop-opacity="0.1"/><stop offset="1" stop-color="#fff" stop-opacity="0.08"/></linearGradient>
<mask id="m_i" maskUnits="userSpaceOnUse" x="789.6" y="972.4" width="136.4" height="272.6"><rect x="789.6" y="972.4" width="136.4" height="272.6" fill="url(#g_i)"/></mask>
<filter id="f_i" color-interpolation-filters="sRGB" filterUnits="userSpaceOnUse" x="789.6" y="972.4" width="136.4" height="272.6"><feTurbulence type="fractalNoise" baseFrequency="0.03 0.30" numOctaves="2" seed="23"/><feColorMatrix type="matrix" values="0.62 0 0 0 0.215  0.62 0 0 0 0.215  0.62 0 0 0 0.215  0 0 0 0 1"/></filter>
<filter id="brk_i" color-interpolation-filters="sRGB" filterUnits="userSpaceOnUse" x="789.6" y="972.4" width="136.4" height="272.6"><feTurbulence type="fractalNoise" baseFrequency="0.11 0.035" numOctaves="2" seed="63" result="n"/><feColorMatrix in="n" type="matrix" values="0 0 0 0 0  0 0 0 0 0  0 0 0 0 0  3.2 0 0 0 -0.9" result="m"/><feGaussianBlur in="SourceGraphic" stdDeviation="0.8" result="b"/><feComposite in="b" in2="m" operator="in"/></filter>
<g clip-path="url(#c_i)">
<rect x="789.6" y="972.4" width="136.4" height="272.6" fill="#868686"/>
<g mask="url(#m_i)"><rect x="789.6" y="972.4" width="136.4" height="272.6" filter="url(#f_i)"/></g>
<g filter="url(#bls)" fill="none" stroke-linecap="round">
<path d="M786.6,1001.6C792.8,1001.8 814.1,1002.9 823.7,1002.8C833.3,1002.7 836.2,1001.2 844.2,1001.0C852.1,1000.8 862.3,1001.3 871.4,1001.6C880.5,1001.9 889.1,1002.7 898.7,1002.8C908.3,1002.9 924.0,1002.1 929.0,1002.0" stroke="#cecece" stroke-width="3.3800000000000003" opacity="0.9774999999999999"/>
<path d="M864.6,1008.4C869.2,1008.6 881.2,1009.3 891.9,1009.6C902.6,1009.9 922.8,1009.9 929.0,1010.0" stroke="#cecece" stroke-width="3.12" opacity="0.9199999999999999"/>
<path d="M786.6,998.4C792.8,998.5 813.0,999.1 823.7,999.0C834.4,998.9 840.8,997.6 851.0,997.6C861.2,997.6 872.1,998.9 885.1,999.0C898.1,999.1 921.7,998.2 929.0,998.0" stroke="#464646" stroke-width="3.12" opacity="1"/>
<path d="M786.6,1004.6C791.6,1004.8 806.1,1005.3 816.9,1005.6C827.6,1005.9 841.9,1006.7 851.0,1006.6C860.1,1006.5 863.5,1005.1 871.4,1005.0C879.4,1004.9 889.1,1006.0 898.7,1006.2C908.3,1006.4 924.0,1006.4 929.0,1006.4" stroke="#464646" stroke-width="3.12" opacity="0.9199999999999999"/>
<path d="M786.6,995.2C793.9,995.3 819.8,995.9 830.5,995.8C841.2,995.7 841.9,994.5 851.0,994.4C860.1,994.3 872.1,995.4 885.1,995.4C898.1,995.4 921.7,994.7 929.0,994.6" stroke="#fbfbfb" stroke-width="3.6399999999999997" opacity="1"/>
<path d="M786.6,1007.6C791.6,1007.8 807.3,1008.1 816.9,1008.6C826.5,1009.1 836.2,1010.2 844.2,1010.6C852.1,1011.0 861.2,1010.8 864.6,1010.8" stroke="#fbfbfb" stroke-width="3.6399999999999997" opacity="1"/>
<path d="M786.6,1011.2C790.5,1011.4 802.7,1012.0 810.1,1012.4C817.4,1012.8 822.6,1013.6 830.5,1013.8C838.5,1014.0 853.3,1013.5 857.8,1013.4" stroke="#0c0c0c" stroke-width="3.3800000000000003" opacity="1"/>
<path d="M885.1,1012.4C888.5,1012.6 898.2,1013.4 905.5,1013.6C912.9,1013.8 925.1,1013.4 929.0,1013.4" stroke="#0c0c0c" stroke-width="3.3800000000000003" opacity="1"/>
</g>
<g filter="url(#bl)" fill="none" stroke-linecap="round">
<path d="M841.4,975.6C843.0,975.7 848.3,976.2 851.0,976.2C853.7,976.2 856.7,975.7 857.8,975.6" stroke="#0c0c0c" stroke-width="1.7920000000000003" opacity="1"/>
<path d="M786.6,1014.6C789.8,1014.9 798.6,1015.9 806.0,1016.4C813.3,1016.9 821.9,1017.5 830.5,1017.6C839.2,1017.7 851.0,1017.3 857.8,1016.8C864.6,1016.3 865.8,1014.9 871.4,1014.6C877.1,1014.3 887.4,1014.6 891.9,1015.0C896.4,1015.4 897.6,1016.5 898.7,1016.8" stroke="#fbfbfb" stroke-width="3.3600000000000003" opacity="1"/>
<path d="M898.7,1017.2C901.0,1017.2 907.3,1017.4 912.4,1017.4C917.4,1017.4 926.2,1017.2 929.0,1017.2" stroke="#fbfbfb" stroke-width="3.3600000000000003" opacity="1"/>
<path d="M786.6,1018.6C789.4,1018.9 794.8,1019.8 803.2,1020.2C811.7,1020.6 827.1,1021.3 837.3,1021.2C847.6,1021.1 858.5,1020.1 864.6,1019.6C870.8,1019.1 869.4,1018.6 874.2,1018.4C878.9,1018.2 890.1,1018.6 893.3,1018.6" stroke="#0c0c0c" stroke-width="3.3600000000000003" opacity="1"/>
<path d="M796.4,1024.6C802.1,1024.6 823.0,1025.1 830.5,1024.6C838.0,1024.1 835.7,1022.3 841.4,1021.8C847.1,1021.3 855.5,1021.8 864.6,1021.8C873.7,1021.8 890.3,1021.9 896.0,1021.6C901.7,1021.3 898.3,1020.3 898.7,1020.0" stroke="#fbfbfb" stroke-width="4.032000000000001" opacity="1"/>
<path d="M898.7,1021.6C901.0,1021.5 907.3,1021.3 912.4,1021.2C917.4,1021.1 926.2,1021.0 929.0,1021.0" stroke="#0c0c0c" stroke-width="4.032000000000001" opacity="1"/>
<path d="M808.7,1028.2C813.0,1028.1 828.7,1028.1 834.6,1027.6C840.5,1027.1 838.0,1025.8 844.2,1025.4C850.3,1025.0 862.3,1025.2 871.4,1025.2C880.5,1025.2 889.1,1025.6 898.7,1025.6C908.3,1025.6 924.0,1025.1 929.0,1025.0" stroke="#0c0c0c" stroke-width="3.3600000000000003" opacity="1"/>
<path d="M803.2,1031.6C807.8,1031.5 822.6,1031.5 830.5,1031.0C838.5,1030.5 844.2,1029.0 851.0,1028.6C857.8,1028.2 863.5,1028.2 871.4,1028.4C879.4,1028.6 891.9,1029.6 898.7,1029.6C905.5,1029.6 907.3,1028.8 912.4,1028.6C917.4,1028.4 926.2,1028.4 929.0,1028.4" stroke="#fbfbfb" stroke-width="3.5840000000000005" opacity="1"/>
<path d="M786.6,1035.0C793.9,1034.9 818.7,1035.1 830.5,1034.6C842.4,1034.1 848.7,1032.5 857.8,1032.2C866.9,1031.9 876.0,1032.6 885.1,1032.6C894.2,1032.6 907.8,1032.1 912.4,1032.0" stroke="#464646" stroke-width="2.76" opacity="1"/>
<path d="M796.4,1039.0C802.1,1038.9 821.4,1038.6 830.5,1038.2C839.6,1037.8 845.3,1036.5 851.0,1036.4C856.7,1036.3 857.8,1037.7 864.6,1037.6C871.4,1037.5 883.9,1036.5 891.9,1036.0C899.9,1035.5 909.0,1034.7 912.4,1034.4" stroke="#cecece" stroke-width="2.76" opacity="0.7975"/>
<path d="M796.4,1042.6C802.1,1042.5 819.2,1042.2 830.5,1042.0C841.9,1041.8 853.3,1041.6 864.6,1041.2C876.0,1040.8 893.0,1039.9 898.7,1039.6" stroke="#464646" stroke-width="2.3" opacity="0.435"/>
<path d="M796.4,1046.0C802.1,1045.9 819.2,1045.6 830.5,1045.4C841.9,1045.2 853.3,1045.0 864.6,1044.6C876.0,1044.2 893.0,1043.3 898.7,1043.0" stroke="#cecece" stroke-width="2.3" opacity="0.435"/>
<path d="M808.7,1089.6C812.3,1089.7 822.3,1090.0 830.5,1090.0C838.7,1090.0 851.0,1089.8 857.8,1089.6C864.6,1089.4 866.4,1088.9 871.4,1088.6C876.4,1088.3 881.0,1088.4 887.8,1088.0C894.6,1087.6 908.3,1086.7 912.4,1086.4" stroke="#0c0c0c" stroke-width="2.9120000000000004" opacity="0.8"/>
<path d="M808.7,1097.4C812.3,1097.5 822.3,1098.1 830.5,1098.2C838.7,1098.3 848.7,1098.2 857.8,1097.8C866.9,1097.4 876.0,1096.5 885.1,1095.8C894.2,1095.1 907.8,1094.1 912.4,1093.8" stroke="#464646" stroke-width="2.53" opacity="0.5075"/>
<path d="M808.7,1101.0C812.3,1101.1 822.3,1101.5 830.5,1101.6C838.7,1101.7 848.7,1101.8 857.8,1101.4C866.9,1101.0 876.0,1100.1 885.1,1099.4C894.2,1098.7 907.8,1097.7 912.4,1097.4" stroke="#cecece" stroke-width="2.3" opacity="0.435"/>
<path d="M803.2,1081.0C807.8,1081.3 821.4,1082.6 830.5,1082.8C839.6,1083.0 848.7,1082.6 857.8,1082.2C866.9,1081.8 876.0,1081.1 885.1,1080.6C894.2,1080.1 907.8,1079.3 912.4,1079.0" stroke="#464646" stroke-width="2.3" opacity="0.435"/>
</g>
<g filter="url(#brk_i)" fill="none" stroke-linecap="round">
<path d="M793.7,1083.4C795.7,1083.8 799.8,1085.1 806.0,1085.6C812.1,1086.1 821.9,1086.5 830.5,1086.6C839.2,1086.7 848.7,1086.4 857.8,1086.0C866.9,1085.6 876.0,1085.0 885.1,1084.4C894.2,1083.8 907.8,1082.9 912.4,1082.6" stroke="#fbfbfb" stroke-width="2.4" opacity="0.6"/>
<path d="M808.7,1093.6C812.3,1093.7 822.3,1094.3 830.5,1094.4C838.7,1094.5 848.7,1094.4 857.8,1094.0C866.9,1093.6 876.0,1092.7 885.1,1092.0C894.2,1091.3 907.8,1090.3 912.4,1090.0" stroke="#fbfbfb" stroke-width="2.8" opacity="0.75"/>
</g>
<g filter="url(#bl2)">
<rect x="786.6" y="974.0" width="142.4" height="1.8" fill="#0c0c0c"/>
<rect x="786.6" y="975.8" width="142.4" height="5.2" fill="#fbfbfb"/>
<rect x="786.6" y="981.0" width="142.4" height="4.3" fill="#0c0c0c"/>
<rect x="786.6" y="985.3" width="142.4" height="4.2" fill="#fbfbfb"/>
<rect x="786.6" y="989.5" width="142.4" height="3.9" fill="#0c0c0c"/>
</g>
</g>
<g stroke="#bcbcbc" stroke-width="1.3" fill="none">
<path d="M789.6,963.4V1245.0" stroke="#9fb8b8"/>
<path d="M926.0,963.4V972.4"/>
<path d="M925.7,972.4V1245.0" stroke="#9fb9b7" stroke-width="2.0"/>
<path d="M780.6,972.4H926.0"/>
<path d="M857.8,963.4V972.4"/>
<path d="M789.6,1245.0H926.0" stroke="#c8c8c8"/>
<path d="M780.6,1033.0H789.6"/>
<path d="M780.6,1093.6H789.6"/>
<path d="M780.6,1154.1H789.6"/>
<path d="M780.6,1214.7H789.6"/>
</g>
<g font-family="Liberation Sans, sans-serif" font-size="15.4" fill="#1a1a1a" stroke="#1a1a1a" stroke-width="0.4">
<text x="789.6" y="958.2" text-anchor="middle">0</text>
<text x="857.8" y="958.2" text-anchor="middle">0.5</text>
<text x="924.5" y="958.2" text-anchor="middle">1</text>
<text x="778.3" y="977.8" text-anchor="end">0</text>
<text x="778.3" y="1038.4" text-anchor="end">10</text>
<text x="778.3" y="1099.0" text-anchor="end">20</text>
<text x="778.3" y="1159.5" text-anchor="end">30</text>
<text x="778.3" y="1220.1" text-anchor="end">40</text>
</g>
<text x="934.5" y="959.1" font-family="Liberation Sans, sans-serif" font-size="18.6" font-weight="bold" font-style="italic" fill="#1a1a1a">L, м</text>
<text x="757.6" y="1263.3" font-family="Liberation Sans, sans-serif" font-size="18.6" font-weight="bold" font-style="italic" fill="#1a1a1a">t, нс</text>
<text x="868.0" y="1286.6" text-anchor="middle" font-family="Liberation Sans, sans-serif" font-size="19" fill="#1a1a1a">и) Октябрь</text>
<circle cx="802.3" cy="1023.6" r="7.1" fill="#fdfdfd" stroke="#1a1a1a" stroke-width="1.15"/>
<path d="M801.96,1028.55L801.96,1020.33L799.58,1021.81L799.58,1020.26L802.06,1018.65L803.93,1018.65L803.93,1028.55Z" fill="#111"/>
<circle cx="801.8" cy="1093.0" r="7.1" fill="#fdfdfd" stroke="#1a1a1a" stroke-width="1.15"/>
<text x="801.8" y="1097.9" text-anchor="middle" font-family="Liberation Sans, sans-serif" font-size="13.6" font-weight="bold" fill="#111">2</text>
<text x="223.6" y="361.5" font-family="Liberation Sans, sans-serif" font-size="25.8" font-weight="bold" fill="#151515">W=15 %</text>
<text x="223.6" y="746.5" font-family="Liberation Sans, sans-serif" font-size="25.8" font-weight="bold" fill="#151515">W=22 %</text>
<text x="223.6" y="1135.5" font-family="Liberation Sans, sans-serif" font-size="25.8" font-weight="bold" fill="#151515">W=30 %</text>
</svg>
<div class="cap" style="top:1306.2px;left:-0.5px">Рис. 2. Фрагменты радарограмм массива песка с включением песка</div>
<div class="cap" style="top:1326.5px;left:-0.5px">влажностью 15% (а–в), 22% (г–е) и 30% (ж–и)</div>
<div class="col" style="left:171.5px">
<div class="ln" style="padding-left:33px">По данным таблицы 2 следует, что</div>
<div class="ln">скорость в песке влажностью 5% в талом</div>
<div class="ln">и мерзлом состоянии составляет 0,11 м/нс</div>
<div class="ln">и 0,173 м/нс соответственно. В талом пе-</div>
<div class="ln">ске влажностью 15% скорость составля-</div>
<div class="ln">ет 0,074 м/нс, а в мерзлом – 0,137 м/нс.</div>
</div>
<div class="col" style="left:614px">
<div class="ln">Скорость в талом и мерзлом песке влаж-</div>
<div class="ln">ностью 22% – 0,063 м/нс и 0,141 м/нс</div>
<div class="ln">соответственно. Показатели скорости</div>
<div class="ln">в песке влажностью 30% в талом и мерз-</div>
<div class="ln">лом состоянии – 0,062 м/нс и 0,125 м/нс</div>
<div class="ln nj">соответственно.</div>
</div>
<div class="rule" style="top:1538.7px"></div>
<div class="sq" style="left:221.3px;top:1547.1px;width:16.4px;height:16.2px"></div>
<div class="sq" style="left:961.1px;top:1547.1px;width:16.4px;height:16.2px"></div>
<div class="ft" style="left:264.8px">УСПЕХИ СОВРЕМЕННОГО ЕСТЕСТВОЗНАНИЯ</div>
<div class="ft" style="left:822.3px">№ 11, 2024</div>
</div></body></html>
